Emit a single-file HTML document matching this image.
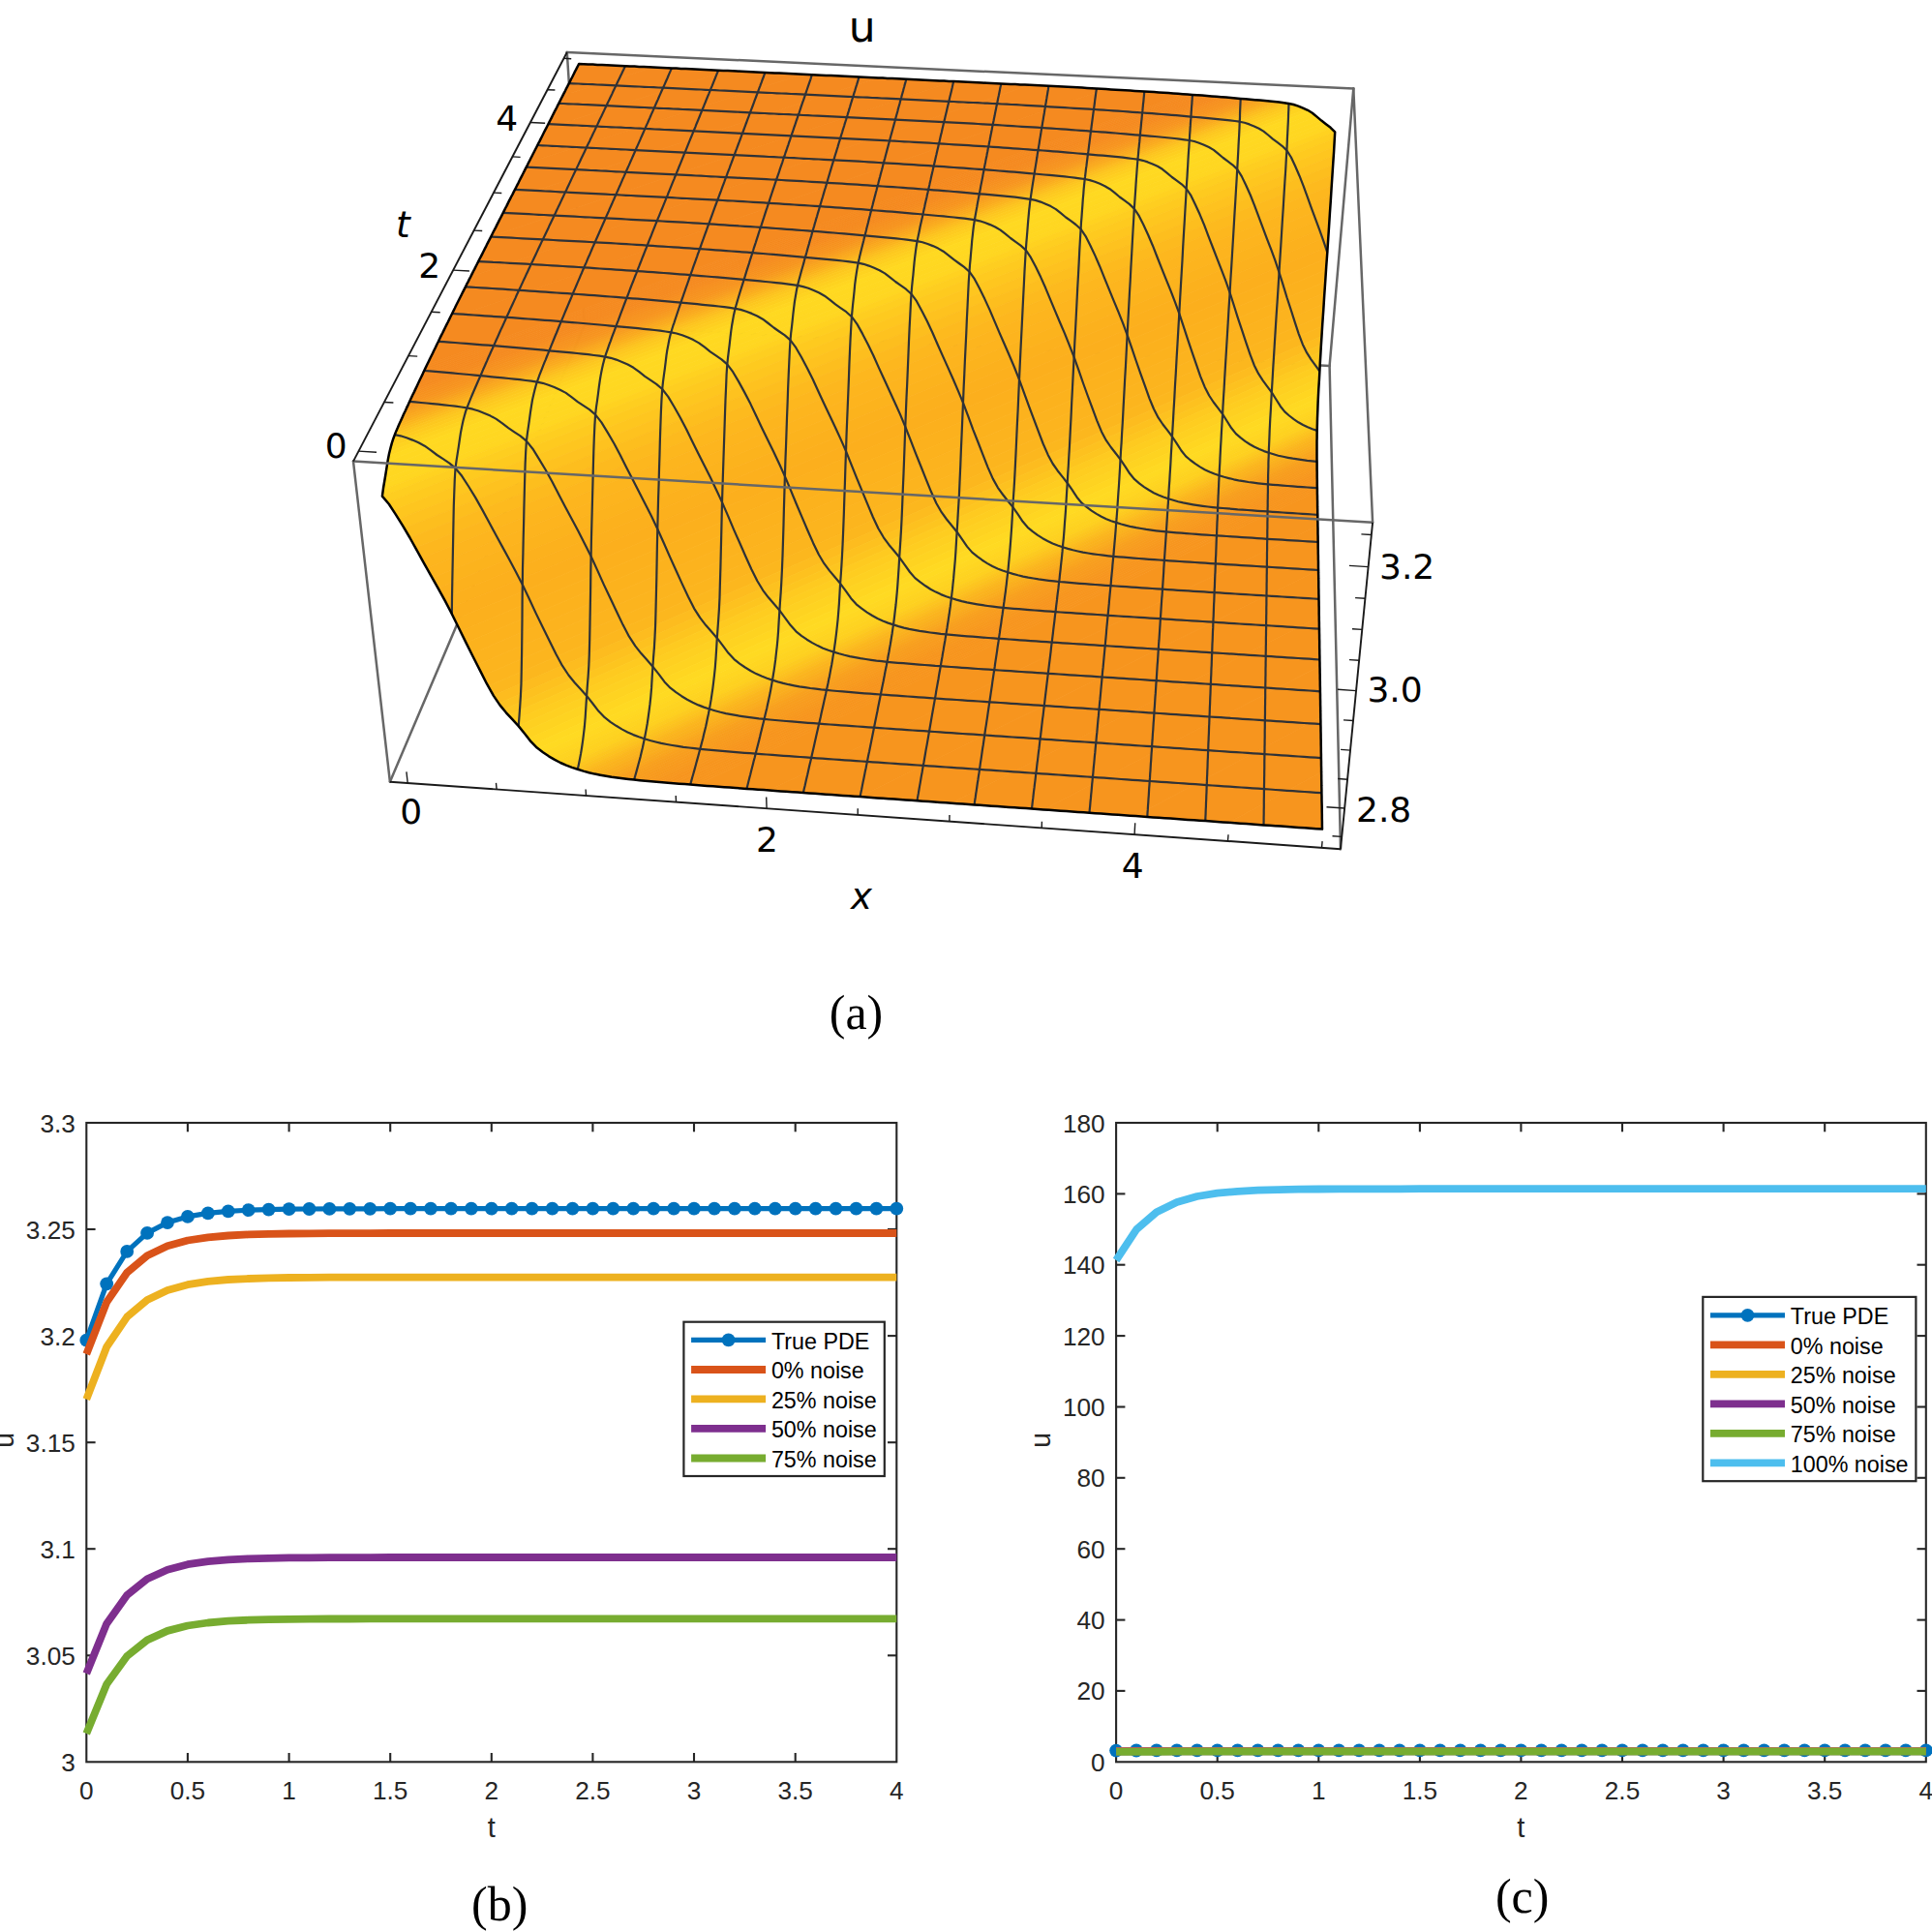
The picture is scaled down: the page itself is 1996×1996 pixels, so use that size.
<!DOCTYPE html>
<html><head><meta charset="utf-8"><title>figure</title>
<style>html,body{margin:0;padding:0;background:#fff}svg{display:block}</style></head>
<body><svg width="1996" height="1996" viewBox="0 0 1996 1996">
<rect width="1996" height="1996" fill="#fff"/>
<g stroke="#676767" stroke-width="2.5" fill="none" stroke-linecap="round"><line x1="402.9" y1="807.7" x2="604" y2="335.6"/><line x1="585.8" y1="54" x2="604" y2="335.6"/><line x1="604" y1="335.6" x2="1373.6" y2="378"/><line x1="1398.3" y1="91.4" x2="1373.6" y2="378"/><line x1="1373.6" y1="378" x2="1385" y2="877.2"/><line x1="585.8" y1="54" x2="1398.3" y2="91.4"/><line x1="1398.3" y1="91.4" x2="1418.1" y2="539.8"/></g><g stroke-width="0.8" stroke-linejoin="round"><polygon points="674.8,69.5 598.1,66 581.6,98.4" fill="#f58a20" stroke="#f58a20"/><polygon points="751.8,73.1 674.8,69.5 581.6,98.4 564.3,132.4" fill="#f58a20" stroke="#f58a20"/><polygon points="829.2,76.7 751.8,73.1 564.3,132.4 546.1,168" fill="#f58a20" stroke="#f58a20"/><polygon points="907,80.4 829.2,76.7 546.1,168 527.1,205.4" fill="#f58a20" stroke="#f58a20"/><polygon points="985.2,84.1 907,80.4 527.1,205.4 507.2,244.6" fill="#f58a20" stroke="#f58a20"/><polygon points="1063.8,87.8 985.2,84.1 507.2,244.6 486.3,285.8" fill="#f58a20" stroke="#f58a20"/><polygon points="1142.7,92.1 1063.8,87.8 486.3,285.8 464.3,329.6" fill="#f58a20" stroke="#f58a20"/><polygon points="1222,97.2 1142.7,92.1 464.3,329.6 441.2,376.8" fill="#f58a20" stroke="#f58a20"/><polygon points="1226,97.4 1222,97.2 441.2,376.8 440,379.3" fill="#f58a20" stroke="#f58a20"/><polygon points="1230,97.7 1226,97.4 440,379.3 438.8,381.7" fill="#f58a20" stroke="#f58a20"/><polygon points="1233.9,98 1230,97.7 438.8,381.7 437.7,384.2" fill="#f58a20" stroke="#f58a20"/><polygon points="1237.9,98.3 1233.9,98 437.7,384.2 436.5,386.7" fill="#f58a20" stroke="#f58a20"/><polygon points="1241.9,98.6 1237.9,98.3 436.5,386.7 435.3,389.2" fill="#f58a20" stroke="#f58a20"/><polygon points="1245.9,98.9 1241.9,98.6 435.3,389.2 434.1,391.7" fill="#f58a20" stroke="#f58a20"/><polygon points="1249.8,99.2 1245.9,98.9 434.1,391.7 432.9,394.2" fill="#f58a20" stroke="#f58a20"/><polygon points="1253.8,99.5 1249.8,99.2 432.9,394.2 431.7,396.8" fill="#f58a20" stroke="#f58a20"/><polygon points="1257.8,99.9 1253.8,99.5 431.7,396.8 430.5,399.3" fill="#f58b20" stroke="#f58b20"/><polygon points="1261.8,100.2 1257.8,99.9 430.5,399.3 429.3,401.9" fill="#f58c20" stroke="#f58c20"/><polygon points="1265.7,100.5 1261.8,100.2 429.3,401.9 428.1,404.4" fill="#f68d20" stroke="#f68d20"/><polygon points="1269.7,100.8 1265.7,100.5 428.1,404.4 426.8,407" fill="#f68f20" stroke="#f68f20"/><polygon points="1273.7,101.2 1269.7,100.8 426.8,407 425.6,409.6" fill="#f6901f" stroke="#f6901f"/><polygon points="1277.7,101.5 1273.7,101.2 425.6,409.6 424.4,412.2" fill="#f6921f" stroke="#f6921f"/><polygon points="1281.7,101.9 1277.7,101.5 424.4,412.2 423.2,414.8" fill="#f6931f" stroke="#f6931f"/><polygon points="1285.6,102.2 1281.7,101.9 423.2,414.8 422,417.5" fill="#f7941f" stroke="#f7941f"/><polygon points="1289.6,102.6 1285.6,102.2 422,417.5 420.7,420.1" fill="#f7961f" stroke="#f7961f"/><polygon points="1293.6,102.9 1289.6,102.6 420.7,420.1 419.5,422.7" fill="#f7991f" stroke="#f7991f"/><polygon points="1297.6,103.2 1293.6,102.9 419.5,422.7 418.3,425.4" fill="#f89c1f" stroke="#f89c1f"/><polygon points="1301.6,103.6 1297.6,103.2 418.3,425.4 417,428" fill="#f8a01f" stroke="#f8a01f"/><polygon points="1305.6,104 1301.6,103.6 417,428 415.8,430.7" fill="#f9a41e" stroke="#f9a41e"/><polygon points="1309.5,104.3 1305.6,104 415.8,430.7 414.6,433.4" fill="#faa81e" stroke="#faa81e"/><polygon points="1313.5,104.7 1309.5,104.3 414.6,433.4 413.3,436.2" fill="#faab1e" stroke="#faab1e"/><polygon points="1317.5,105.2 1313.5,104.7 413.3,436.2 412.1,438.9" fill="#fbb01e" stroke="#fbb01e"/><polygon points="1321.5,105.6 1317.5,105.2 412.1,438.9 410.9,441.8" fill="#fbb51e" stroke="#fbb51e"/><polygon points="1325.5,106.1 1321.5,105.6 410.9,441.8 409.6,444.6" fill="#fcba1f" stroke="#fcba1f"/><polygon points="1329.4,106.7 1325.5,106.1 409.6,444.6 408.4,447.6" fill="#fcbf1f" stroke="#fcbf1f"/><polygon points="1333.4,107.3 1329.4,106.7 408.4,447.6 407.2,450.6" fill="#fdc41f" stroke="#fdc41f"/><polygon points="1337.3,108.3 1333.4,107.3 407.2,450.6 406,454" fill="#fdc81f" stroke="#fdc81f"/><polygon points="1341.3,109.6 1337.3,108.3 406,454 404.8,457.9" fill="#fecb20" stroke="#fecb20"/><polygon points="1345.2,111.1 1341.3,109.6 404.8,457.9 403.7,462" fill="#fecf20" stroke="#fecf20"/><polygon points="1349,112.9 1345.2,111.1 403.7,462 402.6,466.4" fill="#fed320" stroke="#fed320"/><polygon points="1352.9,114.8 1349,112.9 402.6,466.4 401.5,471" fill="#ffd621" stroke="#ffd621"/><polygon points="1356.7,117.4 1352.9,114.8 401.5,471 400.5,476.3" fill="#ffd921" stroke="#ffd921"/><polygon points="1360.5,120.6 1356.7,117.4 400.5,476.3 399.6,482.4" fill="#ffd821" stroke="#ffd821"/><polygon points="1364.2,123.9 1360.5,120.6 399.6,482.4 398.7,488.5" fill="#ffd821" stroke="#ffd821"/><polygon points="1368,126.9 1364.2,123.9 398.7,488.5 397.7,494.4" fill="#ffd721" stroke="#ffd721"/><polygon points="1371.8,129.6 1368,126.9 397.7,494.4 396.7,500" fill="#ffd721" stroke="#ffd721"/><polygon points="1375.6,132.6 1371.8,129.6 396.7,500 395.8,505.9" fill="#ffd621" stroke="#ffd621"/><polygon points="394.9,512.6 394.9,512.6 1379.2,136.3 1379.2,136.3 1375.6,132.6 395.8,505.9" fill="#ffd220" stroke="#ffd220"/><polygon points="394.9,512.6 400.4,518.9 1378.9,143.2 1379.2,136.3 1379.2,136.3 394.9,512.6" fill="#fece20" stroke="#fece20"/><polygon points="400.4,518.9 406.1,527.1 1378.3,151.7 1378.9,143.2" fill="#feca1f" stroke="#feca1f"/><polygon points="406.1,527.1 411.8,536.2 1377.8,161.1 1378.3,151.7" fill="#fec61f" stroke="#fec61f"/><polygon points="411.8,536.2 417.6,545.5 1377.2,170.6 1377.8,161.1" fill="#fec21f" stroke="#fec21f"/><polygon points="417.6,545.5 423.4,555.5 1376.5,180.7 1377.2,170.6" fill="#fdbe1e" stroke="#fdbe1e"/><polygon points="423.4,555.5 429.3,566.1 1375.8,191.4 1376.5,180.7" fill="#fdba1e" stroke="#fdba1e"/><polygon points="429.3,566.1 435.1,576.7 1375.1,202.1 1375.8,191.4" fill="#fdb71e" stroke="#fdb71e"/><polygon points="435.1,576.7 440.9,587 1374.4,212.6 1375.1,202.1" fill="#fdb51e" stroke="#fdb51e"/><polygon points="440.9,587 446.7,597.1 1373.7,223 1374.4,212.6" fill="#fdb41e" stroke="#fdb41e"/><polygon points="446.7,597.1 452.4,607.4 1373.1,233.4 1373.7,223" fill="#fcb31d" stroke="#fcb31d"/><polygon points="452.4,607.4 458.2,617.8 1372.4,244.1 1373.1,233.4" fill="#fcb11d" stroke="#fcb11d"/><polygon points="458.2,617.8 463.9,628.6 1371.6,255.1 1372.4,244.1" fill="#fcb01d" stroke="#fcb01d"/><polygon points="463.9,628.6 469.8,640 1370.9,266.7 1371.6,255.1" fill="#fcaf1d" stroke="#fcaf1d"/><polygon points="469.8,640 475.6,652 1370,278.7 1370.9,266.7" fill="#fcb01d" stroke="#fcb01d"/><polygon points="475.6,652 481.4,663.9 1369.2,290.9 1370,278.7" fill="#fcb11d" stroke="#fcb11d"/><polygon points="481.4,663.9 487.2,675.4 1368.4,302.5 1369.2,290.9" fill="#fcb21d" stroke="#fcb21d"/><polygon points="487.2,675.4 492.9,686.7 1367.7,314.1 1368.4,302.5" fill="#fcb31e" stroke="#fcb31e"/><polygon points="492.9,686.7 498.6,698 1366.9,325.7 1367.7,314.1" fill="#fcb41e" stroke="#fcb41e"/><polygon points="498.6,698 504.3,708.8 1366.1,336.9 1366.9,325.7" fill="#fcb51e" stroke="#fcb51e"/><polygon points="504.3,708.8 509.8,718.6 1365.5,347.2 1366.1,336.9" fill="#fcb71e" stroke="#fcb71e"/><polygon points="509.8,718.6 515.1,726.7 1364.9,356 1365.5,347.2" fill="#fdbc1f" stroke="#fdbc1f"/><polygon points="515.1,726.7 520.3,733.3 1364.5,363.5 1364.9,356" fill="#fdc11f" stroke="#fdc11f"/><polygon points="520.3,733.3 525.5,739.1 1364.1,370.3 1364.5,363.5" fill="#fdc51f" stroke="#fdc51f"/><polygon points="525.5,739.1 530.6,744.5 1363.7,376.8 1364.1,370.3" fill="#feca20" stroke="#feca20"/><polygon points="530.6,744.5 535.7,750.1 1363.4,383.5 1363.7,376.8" fill="#fecd20" stroke="#fecd20"/><polygon points="535.7,750.1 540.8,756.3 1363,390.7 1363.4,383.5" fill="#fed021" stroke="#fed021"/><polygon points="540.8,756.3 546,763 1362.5,398.3 1363,390.7" fill="#fed321" stroke="#fed321"/><polygon points="546,763 551.1,769 1362.1,405.4 1362.5,398.3" fill="#ffd621" stroke="#ffd621"/><polygon points="551.1,769 556.1,773.6 1361.8,411.2 1362.1,405.4" fill="#ffd922" stroke="#ffd922"/><polygon points="556.1,773.6 561,777.2 1361.6,416.1 1361.8,411.2" fill="#ffda22" stroke="#ffda22"/><polygon points="561,777.2 565.8,780.5 1361.4,420.8 1361.6,416.1" fill="#ffd822" stroke="#ffd822"/><polygon points="565.8,780.5 570.7,783.5 1361.2,425.2 1361.4,420.8" fill="#ffd621" stroke="#ffd621"/><polygon points="570.7,783.5 575.5,786.2 1361.1,429.3 1361.2,425.2" fill="#fed421" stroke="#fed421"/><polygon points="575.5,786.2 580.2,788.6 1361,433.2 1361.1,429.3" fill="#fed220" stroke="#fed220"/><polygon points="580.2,788.6 585,790.7 1360.9,436.8 1361,433.2" fill="#fed020" stroke="#fed020"/><polygon points="585,790.7 589.7,792.5 1360.8,440.2 1360.9,436.8" fill="#fdcb20" stroke="#fdcb20"/><polygon points="589.7,792.5 594.4,794.1 1360.7,443.3 1360.8,440.2" fill="#fdc61f" stroke="#fdc61f"/><polygon points="594.4,794.1 599.2,795.6 1360.7,446.4 1360.7,443.3" fill="#fcc21f" stroke="#fcc21f"/><polygon points="599.2,795.6 603.9,796.9 1360.6,449.4 1360.7,446.4" fill="#fcbd1f" stroke="#fcbd1f"/><polygon points="603.9,796.9 608.5,798.2 1360.6,452.3 1360.6,449.4" fill="#fbb81e" stroke="#fbb81e"/><polygon points="608.5,798.2 613.2,799.3 1360.5,455.1 1360.6,452.3" fill="#fbb41e" stroke="#fbb41e"/><polygon points="613.2,799.3 617.9,800.3 1360.5,457.7 1360.5,455.1" fill="#fab21e" stroke="#fab21e"/><polygon points="617.9,800.3 622.6,801.1 1360.5,460.3 1360.5,457.7" fill="#faae1e" stroke="#faae1e"/><polygon points="622.6,801.1 627.2,801.9 1360.5,462.7 1360.5,460.3" fill="#faac1e" stroke="#faac1e"/><polygon points="627.2,801.9 631.9,802.7 1360.5,465.2 1360.5,462.7" fill="#f9a81e" stroke="#f9a81e"/><polygon points="631.9,802.7 636.5,803.3 1360.5,467.6 1360.5,465.2" fill="#f9a61e" stroke="#f9a61e"/><polygon points="636.5,803.3 641.2,804 1360.5,470 1360.5,467.6" fill="#f9a21e" stroke="#f9a21e"/><polygon points="641.2,804 645.8,804.6 1360.5,472.3 1360.5,470" fill="#f8a01e" stroke="#f8a01e"/><polygon points="645.8,804.6 650.5,805.1 1360.5,474.6 1360.5,472.3" fill="#f89e1e" stroke="#f89e1e"/><polygon points="650.5,805.1 655.1,805.6 1360.6,476.8 1360.5,474.6" fill="#f89d1e" stroke="#f89d1e"/><polygon points="655.1,805.6 659.8,806.1 1360.6,479 1360.6,476.8" fill="#f89c1e" stroke="#f89c1e"/><polygon points="659.8,806.1 664.4,806.5 1360.6,481.2 1360.6,479" fill="#f89b1e" stroke="#f89b1e"/><polygon points="664.4,806.5 669,806.9 1360.6,483.4 1360.6,481.2" fill="#f89a1e" stroke="#f89a1e"/><polygon points="669,806.9 673.7,807.3 1360.6,485.6 1360.6,483.4" fill="#f7991e" stroke="#f7991e"/><polygon points="673.7,807.3 678.3,807.7 1360.7,487.8 1360.6,485.6" fill="#f7981e" stroke="#f7981e"/><polygon points="678.3,807.7 683,808.1 1360.7,490 1360.7,487.8" fill="#f7971e" stroke="#f7971e"/><polygon points="683,808.1 687.6,808.5 1360.7,492.2 1360.7,490" fill="#f7961e" stroke="#f7961e"/><polygon points="687.6,808.5 692.3,808.9 1360.7,494.4 1360.7,492.2" fill="#f7951e" stroke="#f7951e"/><polygon points="692.3,808.9 696.9,809.3 1360.8,496.6 1360.7,494.4" fill="#f7951e" stroke="#f7951e"/><polygon points="696.9,809.3 701.6,809.7 1360.8,498.7 1360.8,496.6" fill="#f7951e" stroke="#f7951e"/><polygon points="701.6,809.7 706.2,810 1360.8,500.9 1360.8,498.7" fill="#f7951e" stroke="#f7951e"/><polygon points="706.2,810 710.9,810.4 1360.9,503.1 1360.8,500.9" fill="#f7951e" stroke="#f7951e"/><polygon points="710.9,810.4 715.5,810.7 1360.9,505.3 1360.9,503.1" fill="#f7951e" stroke="#f7951e"/><polygon points="715.5,810.7 720.2,811.1 1360.9,507.5 1360.9,505.3" fill="#f7951e" stroke="#f7951e"/><polygon points="720.2,811.1 794.8,816.6 1361.4,543 1360.9,507.5" fill="#f7951e" stroke="#f7951e"/><polygon points="794.8,816.6 888.6,823.1 1362.1,589 1361.4,543" fill="#f7951e" stroke="#f7951e"/><polygon points="888.6,823.1 982.9,829.7 1362.8,637.2 1362.1,589" fill="#f7951e" stroke="#f7951e"/><polygon points="982.9,829.7 1077.8,836.4 1363.5,687.9 1362.8,637.2" fill="#f7951e" stroke="#f7951e"/><polygon points="1077.8,836.4 1173.3,843.1 1364.3,741.3 1363.5,687.9" fill="#f7951e" stroke="#f7951e"/><polygon points="1173.3,843.1 1269.3,849.8 1365.1,797.4 1364.3,741.3" fill="#f7951e" stroke="#f7951e"/><polygon points="1269.3,849.8 1366,856.6 1365.1,797.4" fill="#f7951e" stroke="#f7951e"/></g><g fill="none" stroke="#2f3237" stroke-width="2.2" stroke-linejoin="round"><polyline points="407.8,449.1 413.8,450.3 420,452.2 426.2,454.6 432.4,457.3 438.7,460.7 445,465.2 451.4,470 457.8,474.2 464.1,478.4 470.5,483.7 477.2,491.8 484.1,502.5 491.1,513.9 498,526.1 505.1,539.3 512.1,552.2 519,564.9 525.9,577.5 532.8,590.4 539.8,604.1 546.8,618.7 553.7,633.6 560.6,647.7 567.5,661.7 574.3,675.4 580.9,687.7 587.4,697.5 593.7,705.2 599.9,712.1 606.1,718.9 612.3,726.8 618.5,734.8 624.7,741.2 630.6,745.8 636.6,749.8 642.5,753.4 648.4,756.5 654.2,759.1 660,761.3 665.8,763.2 671.6,765 677.4,766.5 683.2,767.9 688.9,769 694.6,770 700.4,770.9 706.1,771.8 711.9,772.5 717.6,773.2 723.3,773.8 729,774.4 734.8,774.9 740.5,775.4 746.2,775.9 752,776.4 757.7,776.9 763.4,777.3 769.2,777.8 774.9,778.2 780.7,778.6 786.4,779.1 792.1,779.5 797.9,779.9 803.6,780.3 809.4,780.8 815.1,781.2 820.9,781.6 826.7,782 832.4,782.4 838.2,782.9 843.9,783.3 849.7,783.7 855.5,784.1 861.2,784.5 867,784.9 872.8,785.3 878.6,785.7 884.3,786.1 890.1,786.5 895.9,786.9 901.7,787.3 907.5,787.7 913.3,788.1 919,788.5 924.8,788.9 930.6,789.3 936.4,789.7 942.2,790.1 948,790.5 953.8,790.9 959.6,791.3 965.4,791.7 971.3,792.1 977.1,792.5 982.9,792.9 988.7,793.3 994.5,793.7 1000.3,794.1 1006.2,794.5 1012,794.9 1017.8,795.3 1023.6,795.7 1029.5,796.1 1035.3,796.5 1041.1,796.9 1047,797.3 1052.8,797.7 1058.7,798.1 1064.5,798.5 1070.3,798.9 1076.2,799.3 1082,799.7 1087.9,800.1 1093.8,800.5 1099.6,800.9 1105.5,801.3 1111.3,801.7 1117.2,802.1 1123.1,802.5 1128.9,802.9 1134.8,803.3 1140.7,803.7 1146.5,804.1 1152.4,804.5 1158.3,805 1164.2,805.4 1170.1,805.8 1175.9,806.2 1181.8,806.6 1187.7,807 1193.6,807.4 1199.5,807.8 1205.4,808.2 1211.3,808.6 1217.2,809 1223.1,809.4 1229,809.8 1234.9,810.2 1240.8,810.6 1246.7,811.1 1252.7,811.5 1258.6,811.9 1264.5,812.3 1270.4,812.7 1276.3,813.1 1282.3,813.5 1288.2,813.9 1294.1,814.3 1300,814.7 1306,815.1 1311.9,815.5 1317.9,816 1323.8,816.4 1329.7,816.8 1335.7,817.2 1341.6,817.6 1347.6,818 1353.5,818.4 1359.5,818.8 1365.4,819.2"/><polyline points="466.8,634.2 467,617.4 467.3,601.3 467.6,585.6 467.9,569.9 468.2,553.9 468.5,537.8 468.8,522.6 469.3,508.3 469.8,494.7 470.5,483.7 471.6,475.6 472.7,468.6 473.8,461.6 474.9,454 476,446.7 477.2,440.6 478.4,435.1 479.7,430 481,425.4 482.4,421.4 483.8,417.8 485.2,414.3 486.6,410.9 488,407.5 489.4,404.2 490.8,401 492.2,397.7 493.6,394.5 495,391.4 496.4,388.2 497.8,385 499.1,381.8 500.5,378.7 501.9,375.5 503.3,372.4 504.6,369.3 506,366.3 507.3,363.2 508.7,360.2 510,357.2 511.4,354.2 512.7,351.2 514.1,348.2 515.4,345.3 516.7,342.3 518,339.4 519.4,336.5 520.7,333.6 522,330.7 523.3,327.8 524.6,325 525.9,322.2 527.2,319.3 528.5,316.5 529.8,313.7 531.1,310.9 532.4,308.1 533.6,305.3 534.9,302.6 536.2,299.8 537.5,297.1 538.7,294.4 540,291.6 541.2,288.9 542.5,286.3 543.7,283.6 545,280.9 546.2,278.3 547.5,275.6 548.7,273 549.9,270.4 551.2,267.8 552.4,265.3 553.6,262.7 554.8,260.1 556,257.6 557.2,255 558.4,252.5 559.6,249.9 560.8,247.4 562,244.9 563.2,242.4 564.4,239.9 565.6,237.4 566.8,234.9 567.9,232.4 569.1,230 570.3,227.5 571.5,225 572.6,222.6 573.8,220.2 574.9,217.7 576.1,215.3 577.2,212.9 578.4,210.5 579.5,208.1 580.6,205.7 581.8,203.3 582.9,200.9 584,198.5 585.2,196.2 586.3,193.8 587.4,191.5 588.5,189.1 589.6,186.8 590.7,184.4 591.8,182.1 592.9,179.8 594,177.5 595.1,175.2 596.2,172.9 597.3,170.6 598.4,168.3 599.5,166 600.5,163.8 601.6,161.5 602.7,159.3 603.8,157 604.8,154.8 605.9,152.5 606.9,150.3 608,148.1 609.1,145.9 610.1,143.6 611.2,141.4 612.2,139.2 613.2,137.1 614.3,134.9 615.3,132.7 616.3,130.5 617.4,128.4 618.4,126.2 619.4,124 620.4,121.9 621.5,119.8 622.5,117.6 623.5,115.5 624.5,113.4 625.5,111.3 626.5,109.2 627.5,107 628.5,104.9 629.5,102.9 630.5,100.8 631.5,98.7 632.5,96.6 633.4,94.5 634.4,92.5 635.4,90.4 636.4,88.4 637.4,86.3 638.3,84.3 639.3,82.3 640.3,80.2 641.2,78.2 642.2,76.2 643.1,74.2 644.1,72.2 645,70.2 646,68.2"/><polyline points="423.2,414.8 429.1,415.4 435,416 440.9,416.5 446.8,417.1 452.7,417.7 458.7,418.3 464.6,419 470.5,419.7 476.5,420.5 482.4,421.4 488.4,422.7 494.4,424.5 500.5,426.9 506.6,429.6 512.7,432.9 519,437.4 525.2,442.1 531.4,446.3 537.6,450.4 543.9,455.6 550.4,463.7 557,474.3 563.7,485.5 570.5,497.7 577.2,510.7 583.9,523.5 590.6,536 597.3,548.5 603.9,561.4 610.6,574.8 617.3,589.4 623.9,604.1 630.5,618 637.1,632 643.6,645.6 650,657.7 656.3,667.4 662.4,675.1 668.4,681.8 674.4,688.7 680.5,696.4 686.5,704.4 692.5,710.7 698.3,715.2 704.2,719.2 710,722.8 715.7,725.8 721.5,728.4 727.2,730.6 732.9,732.5 738.6,734.2 744.3,735.8 749.9,737.1 755.6,738.2 761.3,739.2 766.9,740.1 772.6,740.9 778.3,741.7 783.9,742.4 789.6,742.9 795.2,743.5 800.9,744 806.5,744.5 812.2,745 817.9,745.4 823.5,745.9 829.2,746.4 834.9,746.8 840.5,747.2 846.2,747.6 851.9,748.1 857.5,748.5 863.2,748.9 868.9,749.3 874.6,749.7 880.3,750.1 885.9,750.5 891.6,750.9 897.3,751.3 903,751.7 908.7,752.1 914.4,752.5 920.1,752.9 925.8,753.3 931.5,753.7 937.2,754.1 942.9,754.5 948.6,754.9 954.3,755.2 960,755.6 965.7,756 971.4,756.4 977.1,756.8 982.9,757.2 988.6,757.6 994.3,758 1000,758.3 1005.8,758.7 1011.5,759.1 1017.2,759.5 1022.9,759.9 1028.7,760.3 1034.4,760.7 1040.2,761.1 1045.9,761.5 1051.6,761.8 1057.4,762.2 1063.1,762.6 1068.9,763 1074.6,763.4 1080.4,763.8 1086.1,764.2 1091.9,764.6 1097.7,765 1103.4,765.4 1109.2,765.8 1115,766.1 1120.7,766.5 1126.5,766.9 1132.3,767.3 1138,767.7 1143.8,768.1 1149.6,768.5 1155.4,768.9 1161.2,769.3 1166.9,769.7 1172.7,770.1 1178.5,770.5 1184.3,770.8 1190.1,771.2 1195.9,771.6 1201.7,772 1207.5,772.4 1213.3,772.8 1219.1,773.2 1224.9,773.6 1230.7,774 1236.5,774.4 1242.4,774.8 1248.2,775.2 1254,775.6 1259.8,776 1265.6,776.4 1271.4,776.8 1277.3,777.2 1283.1,777.5 1288.9,777.9 1294.8,778.3 1300.6,778.7 1306.4,779.1 1312.3,779.5 1318.1,779.9 1324,780.3 1329.8,780.7 1335.6,781.1 1341.5,781.5 1347.3,781.9 1353.2,782.3 1359.1,782.7 1364.9,783.1"/><polyline points="535.7,750.1 536.5,740 537.2,730 537.9,719.1 538.5,706.1 538.8,690.7 539.1,673.9 539.3,656.7 539.5,639.6 539.6,621.7 539.8,604.1 540,587.5 540.4,571.6 540.7,556.1 541.1,540.6 541.4,524.9 541.8,509 542.2,494 542.6,479.9 543.2,466.5 543.9,455.6 544.9,447.7 545.9,440.8 546.9,433.9 547.9,426.5 549,419.3 550,413.3 551.2,408 552.4,403 553.6,398.5 554.8,394.6 556.1,391.1 557.3,387.7 558.6,384.4 559.9,381.1 561.1,377.9 562.4,374.7 563.7,371.6 564.9,368.5 566.2,365.4 567.4,362.3 568.7,359.2 569.9,356.1 571.2,353 572.4,350 573.6,347 574.9,344 576.1,341 577.3,338 578.5,335.1 579.8,332.1 581,329.2 582.2,326.3 583.4,323.4 584.6,320.5 585.8,317.7 587,314.8 588.2,312 589.4,309.2 590.6,306.4 591.7,303.6 592.9,300.8 594.1,298.1 595.3,295.3 596.4,292.6 597.6,289.9 598.8,287.1 599.9,284.4 601.1,281.7 602.2,279 603.4,276.4 604.5,273.7 605.7,271.1 606.8,268.4 607.9,265.8 609.1,263.2 610.2,260.6 611.3,258 612.4,255.4 613.6,252.8 614.7,250.3 615.8,247.8 616.9,245.3 618,242.7 619.1,240.2 620.2,237.7 621.3,235.3 622.4,232.8 623.5,230.3 624.6,227.8 625.6,225.4 626.7,222.9 627.8,220.5 628.9,218.1 629.9,215.6 631,213.2 632.1,210.8 633.1,208.4 634.2,206 635.2,203.6 636.3,201.2 637.3,198.9 638.4,196.5 639.4,194.1 640.5,191.8 641.5,189.4 642.5,187.1 643.5,184.7 644.6,182.4 645.6,180.1 646.6,177.8 647.6,175.5 648.6,173.2 649.7,170.9 650.7,168.6 651.7,166.3 652.7,164.1 653.7,161.8 654.7,159.5 655.7,157.3 656.6,155.1 657.6,152.8 658.6,150.6 659.6,148.4 660.6,146.1 661.6,143.9 662.5,141.7 663.5,139.5 664.5,137.3 665.4,135.1 666.4,133 667.3,130.8 668.3,128.6 669.3,126.5 670.2,124.3 671.2,122.2 672.1,120 673,117.9 674,115.8 674.9,113.6 675.9,111.5 676.8,109.4 677.7,107.3 678.6,105.2 679.6,103.1 680.5,101 681.4,98.9 682.3,96.9 683.2,94.8 684.1,92.7 685.1,90.7 686,88.6 686.9,86.6 687.8,84.5 688.7,82.5 689.6,80.5 690.4,78.5 691.3,76.4 692.2,74.4 693.1,72.4 694,70.4"/><polyline points="438.2,383 444,383.4 449.9,383.9 455.7,384.4 461.5,384.9 467.3,385.4 473.1,386 478.9,386.5 484.7,387 490.6,387.6 496.4,388.2 502.2,388.7 508,389.3 513.9,389.8 519.7,390.4 525.5,391 531.4,391.6 537.2,392.2 543.1,393 548.9,393.7 554.8,394.6 560.7,395.8 566.6,397.7 572.6,400 578.6,402.7 584.6,405.9 590.7,410.4 596.8,415.1 602.9,419.2 609,423.2 615.1,428.4 621.4,436.4 627.8,446.9 634.3,458 640.7,470 647.2,482.9 653.7,495.6 660.1,508 666.5,520.4 672.9,533.1 679.3,546.5 685.7,560.8 692.1,575.4 698.4,589.3 704.7,603.1 711,616.5 717.1,628.6 723.2,638.2 729.1,645.8 735,652.5 740.8,659.2 746.7,666.9 752.6,674.8 758.4,681.1 764.1,685.6 769.8,689.5 775.5,693 781.2,696.1 786.8,698.6 792.4,700.8 798,702.6 803.6,704.4 809.2,705.9 814.8,707.2 820.4,708.3 826,709.3 831.6,710.1 837.2,711 842.8,711.7 848.4,712.4 853.9,712.9 859.5,713.5 865.1,714 870.7,714.4 876.3,714.9 881.9,715.4 887.5,715.8 893.1,716.3 898.7,716.7 904.3,717.1 909.9,717.5 915.5,717.9 921.1,718.3 926.7,718.7 932.3,719.1 937.9,719.5 943.5,719.9 949.1,720.3 954.7,720.7 960.4,721.1 966,721.5 971.6,721.9 977.2,722.3 982.8,722.7 988.5,723 994.1,723.4 999.7,723.8 1005.4,724.2 1011,724.5 1016.6,724.9 1022.3,725.3 1027.9,725.7 1033.6,726 1039.2,726.4 1044.9,726.8 1050.5,727.2 1056.2,727.6 1061.8,727.9 1067.5,728.3 1073.1,728.7 1078.8,729.1 1084.5,729.4 1090.1,729.8 1095.8,730.2 1101.5,730.6 1107.1,731 1112.8,731.3 1118.5,731.7 1124.1,732.1 1129.8,732.5 1135.5,732.8 1141.2,733.2 1146.9,733.6 1152.6,734 1158.2,734.4 1163.9,734.7 1169.6,735.1 1175.3,735.5 1181,735.9 1186.7,736.3 1192.4,736.6 1198.1,737 1203.8,737.4 1209.5,737.8 1215.2,738.2 1221,738.6 1226.7,738.9 1232.4,739.3 1238.1,739.7 1243.8,740.1 1249.5,740.5 1255.3,740.8 1261,741.2 1266.7,741.6 1272.4,742 1278.2,742.4 1283.9,742.8 1289.6,743.1 1295.4,743.5 1301.1,743.9 1306.9,744.3 1312.6,744.7 1318.4,745.1 1324.1,745.4 1329.9,745.8 1335.6,746.2 1341.4,746.6 1347.1,747 1352.9,747.4 1358.6,747.7 1364.4,748.1"/><polyline points="596.8,794.8 597.9,789.7 599,784.3 600.1,778.4 601.1,772.2 602.1,765.4 603,758.2 603.9,750.5 604.7,741 605.4,729.8 606.1,718.9 606.8,709 607.6,699.1 608.3,688.4 608.8,675.6 609.2,660.4 609.5,643.8 609.8,626.8 610.1,609.9 610.3,592.3 610.6,574.8 610.9,558.5 611.3,542.8 611.7,527.5 612.1,512.3 612.5,496.7 612.9,481 613.3,466.2 613.8,452.3 614.4,439.1 615.1,428.4 616,420.6 617,413.8 617.9,407.1 618.8,399.8 619.8,392.8 620.8,386.9 621.8,381.7 622.9,376.8 624,372.4 625.1,368.6 626.2,365.2 627.4,361.8 628.5,358.6 629.6,355.4 630.8,352.3 631.9,349.2 633,346.2 634.2,343.1 635.3,340.1 636.4,337.1 637.5,334.1 638.7,331.1 639.8,328.1 640.9,325.2 642,322.2 643.1,319.3 644.2,316.4 645.3,313.5 646.4,310.7 647.5,307.8 648.6,305 649.7,302.1 650.7,299.3 651.8,296.5 652.9,293.7 654,291 655.1,288.2 656.1,285.5 657.2,282.8 658.2,280.1 659.3,277.4 660.4,274.7 661.4,272 662.5,269.3 663.5,266.7 664.6,264 665.6,261.4 666.6,258.8 667.7,256.2 668.7,253.6 669.7,251 670.7,248.4 671.8,245.8 672.8,243.3 673.8,240.7 674.8,238.2 675.8,235.7 676.8,233.2 677.8,230.7 678.8,228.2 679.8,225.7 680.8,223.3 681.8,220.8 682.8,218.4 683.8,216 684.8,213.6 685.8,211.1 686.8,208.7 687.7,206.3 688.7,203.9 689.7,201.6 690.6,199.2 691.6,196.8 692.6,194.4 693.5,192.1 694.5,189.7 695.4,187.4 696.4,185.1 697.3,182.7 698.3,180.4 699.2,178.1 700.2,175.8 701.1,173.5 702,171.2 703,168.9 703.9,166.6 704.8,164.4 705.7,162.1 706.6,159.8 707.6,157.6 708.5,155.3 709.4,153.1 710.3,150.9 711.2,148.7 712.1,146.4 713,144.2 713.9,142 714.8,139.8 715.7,137.6 716.6,135.4 717.5,133.3 718.4,131.1 719.2,128.9 720.1,126.8 721,124.6 721.9,122.4 722.8,120.3 723.6,118.2 724.5,116 725.4,113.9 726.2,111.8 727.1,109.7 727.9,107.6 728.8,105.5 729.6,103.4 730.5,101.3 731.3,99.2 732.2,97.1 733,95.1 733.9,93 734.7,90.9 735.6,88.9 736.4,86.8 737.2,84.8 738,82.8 738.9,80.7 739.7,78.7 740.5,76.7 741.3,74.7 742.2,72.7"/><polyline points="452.9,352.8 458.6,353.2 464.3,353.6 470,354 475.7,354.5 481.4,354.9 487.1,355.3 492.9,355.8 498.6,356.3 504.3,356.7 510,357.2 515.8,357.7 521.5,358.1 527.2,358.6 533,359.1 538.7,359.6 544.4,360.1 550.2,360.6 555.9,361.2 561.7,361.7 567.4,362.3 573.2,362.8 578.9,363.3 584.7,363.9 590.4,364.4 596.2,365 602,365.6 607.7,366.2 613.5,367 619.3,367.7 625.1,368.6 630.9,369.8 636.7,371.6 642.6,373.9 648.5,376.5 654.4,379.8 660.4,384.2 666.3,388.8 672.3,392.8 678.2,396.9 684.2,402 690.3,409.9 696.5,420.3 702.7,431.3 709,443.2 715.2,455.9 721.4,468.5 727.6,480.8 733.8,493.1 739.9,505.7 746,518.9 752.2,533.1 758.3,547.6 764.4,561.3 770.4,575 776.4,588.3 782.4,600.3 788.2,609.8 793.9,617.3 799.7,624 805.4,630.6 811.1,638.3 816.8,646.1 822.4,652.3 828,656.8 833.6,660.7 839.2,664.1 844.8,667.1 850.3,669.7 855.8,671.8 861.4,673.6 866.9,675.3 872.4,676.8 877.9,678.1 883.4,679.2 888.9,680.2 894.5,681 900,681.8 905.5,682.6 911,683.2 916.5,683.8 922,684.3 927.6,684.8 933.1,685.2 938.6,685.7 944.1,686.2 949.6,686.6 955.2,687 960.7,687.4 966.2,687.9 971.8,688.2 977.3,688.6 982.8,689 988.4,689.4 993.9,689.8 999.4,690.2 1005,690.6 1010.5,691 1016.1,691.4 1021.6,691.7 1027.2,692.1 1032.7,692.5 1038.3,692.9 1043.9,693.2 1049.4,693.6 1055,694 1060.5,694.3 1066.1,694.7 1071.7,695.1 1077.2,695.4 1082.8,695.8 1088.4,696.2 1094,696.5 1099.5,696.9 1105.1,697.3 1110.7,697.6 1116.3,698 1121.9,698.4 1127.5,698.7 1133,699.1 1138.6,699.5 1144.2,699.8 1149.8,700.2 1155.4,700.6 1161,700.9 1166.6,701.3 1172.2,701.7 1177.8,702 1183.4,702.4 1189,702.8 1194.7,703.2 1200.3,703.5 1205.9,703.9 1211.5,704.3 1217.1,704.6 1222.7,705 1228.4,705.4 1234,705.7 1239.6,706.1 1245.2,706.5 1250.9,706.8 1256.5,707.2 1262.1,707.6 1267.8,708 1273.4,708.3 1279.1,708.7 1284.7,709.1 1290.3,709.4 1296,709.8 1301.6,710.2 1307.3,710.5 1312.9,710.9 1318.6,711.3 1324.3,711.7 1329.9,712 1335.6,712.4 1341.2,712.8 1346.9,713.1 1352.6,713.5 1358.2,713.9 1363.9,714.3"/><polyline points="655.1,805.6 656.2,801.8 657.3,797.9 658.4,793.9 659.5,789.8 660.6,785.8 661.7,781.6 662.7,777.3 663.8,772.8 664.8,768.1 665.8,763.2 666.8,758.2 667.8,752.9 668.8,747.2 669.7,741 670.6,734.4 671.5,727.4 672.3,719.8 673.1,710.4 673.7,699.4 674.4,688.7 675.1,678.9 675.9,669.1 676.5,658.5 677.1,646 677.5,631 677.9,614.5 678.3,597.8 678.6,581.1 678.9,563.7 679.3,546.5 679.7,530.3 680.1,514.9 680.6,499.8 681,484.7 681.5,469.3 681.9,453.8 682.4,439.3 682.9,425.5 683.5,412.5 684.2,402 685,394.3 685.9,387.7 686.8,381.1 687.7,373.9 688.5,367 689.4,361.2 690.4,356.1 691.3,351.3 692.3,347 693.3,343.3 694.3,340 695.3,336.7 696.4,333.6 697.4,330.5 698.4,327.5 699.4,324.5 700.4,321.5 701.4,318.5 702.4,315.6 703.4,312.7 704.4,309.7 705.4,306.8 706.4,303.9 707.4,301.1 708.4,298.2 709.4,295.4 710.4,292.5 711.4,289.7 712.3,286.9 713.3,284.2 714.3,281.4 715.3,278.7 716.2,275.9 717.2,273.2 718.2,270.5 719.1,267.8 720.1,265.1 721,262.4 722,259.8 722.9,257.2 723.9,254.5 724.8,251.9 725.7,249.3 726.7,246.7 727.6,244.1 728.5,241.6 729.5,239 730.4,236.4 731.3,233.9 732.2,231.4 733.2,228.8 734.1,226.3 735,223.8 735.9,221.3 736.8,218.9 737.7,216.4 738.6,213.9 739.5,211.5 740.4,209.1 741.3,206.7 742.2,204.3 743.1,201.9 744,199.5 744.9,197.1 745.7,194.8 746.6,192.4 747.5,190.1 748.4,187.7 749.2,185.4 750.1,183.1 751,180.7 751.8,178.4 752.7,176.1 753.6,173.8 754.4,171.5 755.3,169.2 756.1,167 757,164.7 757.8,162.4 758.7,160.2 759.5,157.9 760.3,155.7 761.2,153.4 762,151.2 762.8,149 763.7,146.7 764.5,144.5 765.3,142.3 766.1,140.1 767,137.9 767.8,135.7 768.6,133.5 769.4,131.4 770.2,129.2 771,127 771.8,124.9 772.6,122.7 773.4,120.6 774.2,118.4 775,116.3 775.8,114.2 776.6,112.1 777.4,110 778.2,107.8 779,105.7 779.7,103.7 780.5,101.6 781.3,99.5 782.1,97.4 782.9,95.3 783.6,93.3 784.4,91.2 785.2,89.1 785.9,87.1 786.7,85.1 787.4,83 788.2,81 789,79 789.7,76.9 790.5,74.9"/><polyline points="467.1,324 472.7,324.3 478.3,324.7 483.9,325.1 489.5,325.5 495.2,325.9 500.8,326.3 506.4,326.7 512,327.1 517.7,327.4 523.3,327.8 528.9,328.2 534.6,328.6 540.2,329.1 545.9,329.5 551.5,329.9 557.1,330.3 562.8,330.8 568.4,331.2 574.1,331.7 579.8,332.1 585.4,332.6 591.1,333.1 596.7,333.5 602.4,334 608.1,334.5 613.7,335 619.4,335.5 625.1,336 630.7,336.6 636.4,337.1 642.1,337.6 647.8,338.2 653.5,338.7 659.1,339.2 664.8,339.8 670.5,340.4 676.2,341 681.9,341.7 687.6,342.5 693.3,343.3 699,344.5 704.8,346.3 710.6,348.6 716.3,351.1 722.1,354.4 728,358.7 733.8,363.3 739.7,367.3 745.5,371.3 751.3,376.4 757.2,384.2 763.2,394.4 769.2,405.4 775.3,417.1 781.3,429.8 787.2,442.2 793.2,454.4 799.1,466.5 805,479 810.9,492.1 816.8,506.2 822.7,520.5 828.5,534.1 834.3,547.7 840.1,560.9 845.8,572.8 851.4,582.2 857,589.6 862.6,596.2 868.1,602.8 873.7,610.4 879.2,618.2 884.7,624.3 890.2,628.7 895.7,632.6 901.2,636 906.6,639 912.1,641.5 917.5,643.6 923,645.4 928.4,647.1 933.8,648.6 939.3,649.9 944.7,650.9 950.1,651.9 955.6,652.7 961,653.5 966.5,654.2 971.9,654.9 977.4,655.4 982.8,655.9 988.3,656.4 993.7,656.8 999.2,657.3 1004.6,657.7 1010.1,658.2 1015.6,658.6 1021,659 1026.5,659.4 1031.9,659.8 1037.4,660.2 1042.9,660.5 1048.4,660.9 1053.8,661.3 1059.3,661.7 1064.8,662.1 1070.3,662.4 1075.7,662.8 1081.2,663.2 1086.7,663.6 1092.2,663.9 1097.7,664.3 1103.2,664.6 1108.7,665 1114.2,665.4 1119.7,665.7 1125.2,666.1 1130.7,666.4 1136.2,666.8 1141.7,667.1 1147.2,667.5 1152.7,667.8 1158.2,668.2 1163.7,668.6 1169.2,668.9 1174.7,669.3 1180.3,669.6 1185.8,670 1191.3,670.3 1196.8,670.7 1202.3,671.1 1207.9,671.4 1213.4,671.8 1218.9,672.1 1224.5,672.5 1230,672.8 1235.5,673.2 1241.1,673.6 1246.6,673.9 1252.2,674.3 1257.7,674.6 1263.3,675 1268.8,675.4 1274.4,675.7 1279.9,676.1 1285.5,676.4 1291,676.8 1296.6,677.1 1302.1,677.5 1307.7,677.9 1313.3,678.2 1318.8,678.6 1324.4,678.9 1330,679.3 1335.5,679.7 1341.1,680 1346.7,680.4 1352.3,680.7 1357.9,681.1 1363.4,681.5"/><polyline points="713.2,810.6 714.2,806.9 715.2,803.2 716.3,799.5 717.3,795.9 718.3,792.2 719.3,788.5 720.3,784.9 721.3,781.2 722.3,777.5 723.3,773.8 724.3,770.1 725.3,766.3 726.3,762.4 727.2,758.5 728.2,754.5 729.2,750.5 730.1,746.2 731,741.8 732,737.3 732.9,732.5 733.8,727.6 734.7,722.4 735.5,716.8 736.4,710.8 737.2,704.3 738,697.3 738.8,689.9 739.5,680.7 740.2,669.8 740.8,659.2 741.5,649.6 742.2,640 742.9,629.6 743.5,617.2 743.9,602.3 744.4,586.1 744.8,569.6 745.2,553.1 745.6,535.9 746,518.9 746.5,503 747,487.7 747.5,472.8 748,457.9 748.5,442.8 749,427.5 749.5,413.1 750.1,399.5 750.6,386.7 751.3,376.4 752.1,368.8 752.9,362.3 753.7,355.8 754.5,348.7 755.3,341.9 756.1,336.3 757,331.3 757.8,326.6 758.7,322.4 759.6,318.8 760.5,315.5 761.4,312.4 762.3,309.3 763.2,306.3 764.1,303.3 765,300.4 765.9,297.5 766.8,294.6 767.7,291.8 768.6,288.9 769.5,286.1 770.4,283.2 771.2,280.4 772.1,277.6 773,274.8 773.9,272.1 774.7,269.3 775.6,266.6 776.5,263.9 777.3,261.2 778.2,258.5 779,255.8 779.9,253.1 780.8,250.5 781.6,247.9 782.5,245.2 783.3,242.6 784.1,240 785,237.4 785.8,234.9 786.7,232.3 787.5,229.8 788.3,227.3 789.2,224.7 790,222.2 790.8,219.7 791.6,217.2 792.5,214.7 793.3,212.2 794.1,209.8 794.9,207.3 795.7,204.9 796.5,202.4 797.3,200 798.1,197.6 798.9,195.2 799.7,192.8 800.5,190.4 801.3,188.1 802.1,185.7 802.9,183.4 803.7,181.1 804.5,178.8 805.3,176.4 806,174.1 806.8,171.8 807.6,169.6 808.4,167.3 809.1,165 809.9,162.7 810.7,160.5 811.4,158.2 812.2,156 813,153.7 813.7,151.5 814.5,149.3 815.2,147 816,144.8 816.7,142.6 817.5,140.4 818.2,138.2 819,136 819.7,133.8 820.4,131.7 821.2,129.5 821.9,127.3 822.6,125.2 823.4,123 824.1,120.9 824.8,118.7 825.6,116.6 826.3,114.5 827,112.4 827.7,110.2 828.4,108.1 829.1,106 829.9,103.9 830.6,101.8 831.3,99.8 832,97.7 832.7,95.6 833.4,93.5 834.1,91.5 834.8,89.4 835.5,87.4 836.2,85.3 836.9,83.3 837.6,81.3 838.2,79.2 838.9,77.2"/><polyline points="480.9,296.4 486.4,296.7 491.9,297 497.4,297.4 503,297.7 508.5,298 514,298.4 519.6,298.7 525.1,299.1 530.6,299.5 536.2,299.8 541.7,300.2 547.3,300.6 552.8,300.9 558.4,301.3 563.9,301.7 569.5,302.1 575.1,302.5 580.6,302.8 586.2,303.2 591.7,303.6 597.3,304 602.9,304.4 608.4,304.8 614,305.2 619.6,305.6 625.2,306.1 630.7,306.5 636.3,306.9 641.9,307.4 647.5,307.8 653.1,308.3 658.7,308.7 664.3,309.2 669.8,309.7 675.4,310.1 681,310.6 686.6,311.1 692.2,311.6 697.8,312.1 703.4,312.7 709.1,313.2 714.7,313.7 720.3,314.2 725.9,314.8 731.5,315.3 737.1,315.9 742.7,316.5 748.3,317.2 754,317.9 759.6,318.8 765.2,319.9 770.9,321.7 776.6,323.9 782.3,326.5 788,329.7 793.7,334 799.4,338.5 805.1,342.5 810.8,346.4 816.5,351.4 822.3,359.2 828.1,369.3 833.9,380.2 839.7,391.8 845.4,404.3 851.2,416.7 856.9,428.7 862.6,440.7 868.3,453.1 874,466.1 879.6,480.1 885.2,494.2 890.8,507.7 896.4,521.2 901.9,534.3 907.4,546 912.9,555.3 918.3,562.7 923.8,569.3 929.2,575.8 934.6,583.3 940,591 945.3,597.1 950.7,601.4 956.1,605.3 961.4,608.7 966.8,611.6 972.1,614.1 977.5,616.2 982.9,618 988.2,619.6 993.6,621.1 999,622.4 1004.3,623.4 1009.7,624.3 1015.1,625.2 1020.4,626 1025.8,626.7 1031.2,627.3 1036.6,627.8 1042,628.3 1047.3,628.8 1052.7,629.2 1058.1,629.7 1063.5,630.1 1068.9,630.5 1074.3,630.9 1079.7,631.3 1085.1,631.7 1090.5,632.1 1095.9,632.5 1101.3,632.8 1106.7,633.2 1112.1,633.6 1117.5,633.9 1122.9,634.3 1128.4,634.7 1133.8,635 1139.2,635.4 1144.6,635.8 1150,636.1 1155.5,636.5 1160.9,636.8 1166.3,637.2 1171.7,637.5 1177.2,637.9 1182.6,638.2 1188,638.6 1193.5,638.9 1198.9,639.2 1204.4,639.6 1209.8,639.9 1215.2,640.3 1220.7,640.6 1226.1,641 1231.6,641.3 1237,641.7 1242.5,642 1248,642.4 1253.4,642.7 1258.9,643.1 1264.3,643.4 1269.8,643.8 1275.3,644.1 1280.7,644.5 1286.2,644.8 1291.7,645.1 1297.1,645.5 1302.6,645.8 1308.1,646.2 1313.6,646.5 1319.1,646.9 1324.5,647.2 1330,647.6 1335.5,647.9 1341,648.3 1346.5,648.6 1352,649 1357.5,649.3 1363,649.7"/><polyline points="771.4,814.9 772.4,811.2 773.3,807.6 774.2,803.9 775.2,800.3 776.1,796.6 777,793 777.9,789.4 778.8,785.8 779.8,782.2 780.7,778.6 781.6,775.1 782.5,771.5 783.4,767.9 784.3,764.4 785.2,760.8 786,757.2 786.9,753.7 787.8,750.1 788.7,746.5 789.6,742.9 790.4,739.3 791.3,735.6 792.2,731.9 793,728 793.9,724.1 794.7,720.2 795.6,716.1 796.4,711.8 797.2,707.3 798,702.6 798.8,697.8 799.6,692.8 800.4,687.3 801.2,681.4 801.9,675 802.7,668.2 803.4,660.9 804.1,651.8 804.7,641.1 805.4,630.6 806,621.2 806.7,611.7 807.3,601.4 807.9,589.2 808.5,574.5 809,558.5 809.5,542.2 809.9,525.9 810.4,508.9 810.9,492.1 811.4,476.4 812,461.3 812.5,446.6 813,431.9 813.6,416.9 814.1,401.9 814.7,387.6 815.3,374.3 815.9,361.6 816.5,351.4 817.2,344 818,337.6 818.7,331.2 819.4,324.3 820.2,317.6 820.9,312 821.7,307.1 822.5,302.5 823.2,298.4 824,294.9 824.8,291.7 825.6,288.7 826.4,285.7 827.2,282.7 828,279.8 828.8,277 829.6,274.2 830.4,271.4 831.1,268.6 831.9,265.8 832.7,263.1 833.5,260.3 834.2,257.6 835,254.8 835.8,252.1 836.5,249.4 837.3,246.7 838.1,244.1 838.8,241.4 839.6,238.8 840.3,236.2 841.1,233.6 841.8,231 842.6,228.4 843.3,225.8 844.1,223.3 844.8,220.7 845.6,218.2 846.3,215.7 847,213.2 847.8,210.7 848.5,208.3 849.2,205.8 850,203.3 850.7,200.9 851.4,198.4 852.1,196 852.9,193.6 853.6,191.2 854.3,188.8 855,186.4 855.7,184 856.4,181.6 857.1,179.2 857.8,176.9 858.5,174.6 859.2,172.2 859.9,169.9 860.6,167.6 861.3,165.3 862,163.1 862.7,160.8 863.4,158.5 864.1,156.3 864.8,154 865.5,151.8 866.1,149.6 866.8,147.3 867.5,145.1 868.2,142.9 868.8,140.7 869.5,138.5 870.2,136.3 870.8,134.1 871.5,132 872.2,129.8 872.8,127.6 873.5,125.5 874.2,123.3 874.8,121.2 875.5,119 876.1,116.9 876.8,114.8 877.4,112.6 878.1,110.5 878.7,108.4 879.3,106.3 880,104.2 880.6,102.1 881.3,100 881.9,97.9 882.5,95.9 883.2,93.8 883.8,91.7 884.4,89.7 885.1,87.6 885.7,85.6 886.3,83.6 886.9,81.5 887.5,79.5"/><polyline points="494.2,270.1 499.7,270.4 505.1,270.7 510.5,271 516,271.2 521.4,271.5 526.9,271.8 532.3,272.1 537.8,272.4 543.2,272.7 548.7,273 554.2,273.3 559.6,273.7 565.1,274 570.5,274.3 576,274.6 581.5,275 586.9,275.3 592.4,275.7 597.9,276 603.4,276.4 608.8,276.7 614.3,277.1 619.8,277.5 625.3,277.8 630.8,278.2 636.3,278.6 641.8,278.9 647.3,279.3 652.8,279.7 658.2,280.1 663.7,280.4 669.2,280.8 674.7,281.2 680.3,281.6 685.8,282 691.3,282.4 696.8,282.9 702.3,283.3 707.8,283.7 713.3,284.2 718.8,284.6 724.4,285.1 729.9,285.5 735.4,286 740.9,286.4 746.5,286.9 752,287.4 757.5,287.9 763,288.4 768.6,288.9 774.1,289.4 779.7,289.9 785.2,290.4 790.7,291 796.3,291.5 801.8,292.1 807.4,292.7 812.9,293.3 818.5,294.1 824,294.9 829.6,296.1 835.2,297.8 840.7,300 846.3,302.5 851.9,305.7 857.5,309.9 863.1,314.4 868.7,318.3 874.3,322.2 879.9,327.2 885.5,334.9 891.1,344.9 896.7,355.7 902.3,367.2 907.8,379.6 913.4,391.8 918.9,403.7 924.4,415.7 929.9,427.9 935.3,440.8 940.7,454.6 946.1,468.7 951.5,482 956.8,495.3 962.1,508.3 967.4,520 972.7,529.2 978,536.5 983.3,543 988.6,549.5 993.8,556.9 999.1,564.6 1004.3,570.6 1009.6,574.9 1014.8,578.7 1020.1,582.1 1025.3,585 1030.6,587.4 1035.9,589.5 1041.2,591.3 1046.5,592.9 1051.7,594.3 1057,595.6 1062.3,596.7 1067.6,597.5 1072.9,598.4 1078.2,599.1 1083.6,599.8 1088.9,600.4 1094.2,601 1099.5,601.4 1104.8,601.9 1110.1,602.3 1115.5,602.8 1120.8,603.2 1126.1,603.6 1131.5,604 1136.8,604.4 1142.1,604.8 1147.5,605.1 1152.8,605.5 1158.2,605.9 1163.5,606.2 1168.8,606.6 1174.2,606.9 1179.5,607.3 1184.9,607.7 1190.2,608 1195.6,608.4 1201,608.7 1206.3,609.1 1211.7,609.4 1217,609.8 1222.4,610.1 1227.8,610.4 1233.1,610.8 1238.5,611.1 1243.9,611.4 1249.2,611.8 1254.6,612.1 1260,612.4 1265.4,612.8 1270.8,613.1 1276.1,613.5 1281.5,613.8 1286.9,614.1 1292.3,614.5 1297.7,614.8 1303.1,615.1 1308.5,615.5 1313.9,615.8 1319.3,616.2 1324.7,616.5 1330.1,616.8 1335.5,617.2 1340.9,617.5 1346.3,617.9 1351.7,618.2 1357.1,618.5 1362.5,618.9"/><polyline points="829.9,819 830.7,815.3 831.6,811.7 832.4,808 833.2,804.4 834.1,800.8 834.9,797.2 835.7,793.6 836.5,790 837.4,786.4 838.2,782.9 839,779.3 839.8,775.7 840.6,772.2 841.4,768.7 842.2,765.1 843,761.6 843.8,758.1 844.6,754.6 845.4,751.1 846.2,747.6 847,744.2 847.8,740.7 848.5,737.2 849.3,733.8 850.1,730.3 850.9,726.8 851.6,723.4 852.4,719.9 853.2,716.4 853.9,712.9 854.7,709.4 855.5,705.8 856.2,702.1 857,698.4 857.7,694.6 858.4,690.8 859.2,686.8 859.9,682.6 860.6,678.2 861.4,673.6 862.1,668.9 862.8,664 863.5,658.6 864.2,652.8 864.9,646.5 865.6,639.8 866.2,632.7 866.9,623.7 867.5,613.1 868.1,602.8 868.8,593.5 869.4,584.2 870,574 870.6,562 871.2,547.5 871.8,531.7 872.3,515.6 872.9,499.4 873.4,482.7 874,466.1 874.5,450.5 875.1,435.7 875.7,421.1 876.3,406.6 876.9,391.9 877.4,377 878,362.9 878.6,349.7 879.3,337.3 879.9,327.2 880.6,319.9 881.2,313.6 881.9,307.3 882.6,300.5 883.2,293.9 883.9,288.5 884.6,283.7 885.3,279.2 886,275.1 886.7,271.7 887.4,268.6 888,265.6 888.7,262.7 889.4,259.8 890.1,257 890.8,254.3 891.5,251.5 892.2,248.8 892.8,246.1 893.5,243.4 894.2,240.7 894.9,238 895.5,235.3 896.2,232.7 896.9,230 897.5,227.4 898.2,224.8 898.9,222.2 899.5,219.6 900.2,217.1 900.8,214.5 901.5,212 902.1,209.4 902.8,206.9 903.4,204.4 904.1,201.9 904.7,199.4 905.4,197 906,194.5 906.6,192.1 907.3,189.7 907.9,187.3 908.5,184.9 909.2,182.5 909.8,180.1 910.4,177.7 911.1,175.3 911.7,173 912.3,170.6 912.9,168.3 913.5,165.9 914.2,163.6 914.8,161.3 915.4,159 916,156.7 916.6,154.4 917.2,152.2 917.8,149.9 918.4,147.7 919,145.5 919.6,143.2 920.2,141 920.8,138.8 921.4,136.6 922,134.5 922.6,132.3 923.2,130.1 923.8,127.9 924.4,125.8 924.9,123.6 925.5,121.5 926.1,119.3 926.7,117.2 927.3,115.1 927.8,112.9 928.4,110.8 929,108.7 929.6,106.6 930.1,104.5 930.7,102.4 931.3,100.3 931.8,98.2 932.4,96.2 933,94.1 933.5,92 934.1,90 934.6,87.9 935.2,85.9 935.8,83.8 936.3,81.8"/><polyline points="507.2,244.6 512.6,244.8 517.9,245.1 523.3,245.4 528.6,245.7 534,246 539.4,246.3 544.7,246.6 550.1,246.8 555.5,247.1 560.8,247.4 566.2,247.7 571.6,248 577,248.3 582.3,248.6 587.7,248.9 593.1,249.1 598.5,249.4 603.9,249.7 609.3,250 614.7,250.3 620.1,250.6 625.5,250.9 630.9,251.2 636.3,251.5 641.7,251.9 647.1,252.2 652.5,252.5 657.9,252.9 663.3,253.2 668.7,253.6 674.1,253.9 679.5,254.3 684.9,254.6 690.4,255 695.8,255.3 701.2,255.7 706.6,256.1 712.1,256.4 717.5,256.8 722.9,257.2 728.4,257.5 733.8,257.9 739.2,258.3 744.7,258.7 750.1,259.1 755.5,259.5 761,259.9 766.4,260.3 771.9,260.7 777.3,261.2 782.8,261.6 788.2,262 793.7,262.5 799.1,262.9 804.6,263.4 810.1,263.9 815.5,264.3 821,264.8 826.4,265.3 831.9,265.8 837.4,266.3 842.9,266.8 848.3,267.3 853.8,267.8 859.3,268.4 864.7,268.9 870.2,269.5 875.7,270.2 881.2,270.9 886.7,271.7 892.2,272.8 897.6,274.6 903.1,276.8 908.6,279.2 914.1,282.4 919.6,286.6 925.1,291 930.6,294.9 936,298.7 941.5,303.7 947,311.2 952.4,321.2 957.8,331.8 963.2,343.2 968.5,355.5 973.9,367.6 979.2,379.4 984.5,391.3 989.7,403.4 995,416.1 1000.2,429.9 1005.3,443.8 1010.5,457 1015.6,470.2 1020.7,483.1 1025.8,494.6 1030.9,503.8 1036.1,511 1041.2,517.5 1046.4,523.9 1051.5,531.2 1056.6,538.8 1061.7,544.8 1066.9,549.1 1072,552.8 1077.2,556.2 1082.4,559 1087.5,561.5 1092.7,563.5 1097.9,565.3 1103.2,566.9 1108.4,568.3 1113.6,569.5 1118.8,570.6 1124.1,571.5 1129.3,572.3 1134.5,573 1139.8,573.7 1145,574.3 1150.3,574.8 1155.5,575.3 1160.8,575.7 1166.1,576.2 1171.3,576.6 1176.6,577 1181.8,577.4 1187.1,577.8 1192.4,578.2 1197.7,578.5 1202.9,578.9 1208.2,579.3 1213.5,579.6 1218.8,580 1224.1,580.3 1229.3,580.7 1234.6,581 1239.9,581.4 1245.2,581.7 1250.5,582.1 1255.8,582.4 1261.1,582.7 1266.4,583.1 1271.7,583.4 1277,583.7 1282.3,584.1 1287.6,584.4 1292.9,584.7 1298.2,585 1303.5,585.4 1308.9,585.7 1314.2,586 1319.5,586.3 1324.8,586.7 1330.1,587 1335.4,587.3 1340.8,587.7 1346.1,588 1351.4,588.3 1356.8,588.6 1362.1,589"/><polyline points="888.6,823.1 889.3,819.4 890.1,815.8 890.8,812.1 891.5,808.5 892.3,804.8 893,801.2 893.7,797.6 894.5,794 895.2,790.4 895.9,786.9 896.6,783.3 897.3,779.7 898.1,776.2 898.8,772.7 899.5,769.2 900.2,765.7 900.9,762.2 901.6,758.7 902.3,755.2 903,751.7 903.7,748.3 904.4,744.8 905.1,741.4 905.8,737.9 906.5,734.5 907.1,731.1 907.8,727.7 908.5,724.3 909.2,720.9 909.9,717.5 910.5,714.2 911.2,710.8 911.9,707.4 912.6,704 913.2,700.7 913.9,697.3 914.5,693.9 915.2,690.5 915.9,687.2 916.5,683.8 917.2,680.3 917.8,676.8 918.5,673.3 919.1,669.6 919.8,665.9 920.4,662.2 921,658.3 921.7,654.2 922.3,649.9 923,645.4 923.6,640.8 924.2,636 924.8,630.7 925.5,625 926.1,618.9 926.7,612.3 927.3,605.2 927.9,596.4 928.6,586 929.2,575.8 929.8,566.6 930.4,557.4 931,547.4 931.6,535.5 932.2,521.2 932.8,505.6 933.5,489.6 934.1,473.7 934.7,457.1 935.3,440.8 935.9,425.4 936.5,410.7 937.2,396.4 937.8,382.1 938.4,367.5 939,352.7 939.6,338.9 940.3,325.9 940.9,313.6 941.5,303.7 942.1,296.4 942.7,290.3 943.4,284.1 944,277.4 944.6,270.9 945.2,265.6 945.8,260.8 946.4,256.4 947,252.5 947.6,249.1 948.2,246.1 948.8,243.2 949.4,240.4 950,237.6 950.5,234.8 951.1,232.1 951.7,229.5 952.3,226.8 952.9,224.2 953.5,221.5 954,218.9 954.6,216.3 955.2,213.7 955.7,211.1 956.3,208.5 956.9,205.9 957.5,203.4 958,200.9 958.6,198.4 959.1,195.9 959.7,193.4 960.3,190.9 960.8,188.4 961.4,186 961.9,183.6 962.5,181.1 963,178.7 963.6,176.3 964.1,173.9 964.7,171.6 965.2,169.2 965.8,166.9 966.3,164.5 966.8,162.2 967.4,159.8 967.9,157.5 968.4,155.2 969,152.9 969.5,150.6 970,148.3 970.6,146.1 971.1,143.8 971.6,141.5 972.1,139.3 972.7,137.1 973.2,134.8 973.7,132.6 974.2,130.4 974.7,128.3 975.2,126.1 975.8,123.9 976.3,121.8 976.8,119.6 977.3,117.5 977.8,115.4 978.3,113.2 978.8,111.1 979.3,109 979.8,106.9 980.3,104.8 980.8,102.7 981.3,100.6 981.8,98.5 982.3,96.4 982.8,94.4 983.3,92.3 983.8,90.3 984.2,88.2 984.7,86.1 985.2,84.1"/><polyline points="519.8,219.8 525,220.1 530.3,220.4 535.6,220.7 540.9,220.9 546.2,221.2 551.5,221.5 556.7,221.8 562,222 567.3,222.3 572.6,222.6 577.9,222.9 583.2,223.2 588.5,223.4 593.8,223.7 599.1,224 604.4,224.3 609.7,224.5 615,224.8 620.3,225.1 625.6,225.4 631,225.7 636.3,225.9 641.6,226.2 646.9,226.5 652.2,226.8 657.5,227.1 662.9,227.3 668.2,227.6 673.5,227.9 678.8,228.2 684.2,228.5 689.5,228.8 694.8,229.1 700.2,229.4 705.5,229.7 710.9,230 716.2,230.4 721.6,230.7 726.9,231 732.2,231.4 737.6,231.7 742.9,232.1 748.3,232.4 753.7,232.8 759,233.1 764.4,233.5 769.7,233.8 775.1,234.2 780.5,234.5 785.8,234.9 791.2,235.2 796.6,235.6 801.9,236 807.3,236.4 812.7,236.8 818.1,237.2 823.4,237.6 828.8,238 834.2,238.4 839.6,238.8 845,239.2 850.4,239.7 855.7,240.1 861.1,240.5 866.5,241 871.9,241.4 877.3,241.9 882.7,242.4 888.1,242.9 893.5,243.4 898.9,243.9 904.3,244.4 909.7,244.8 915.1,245.3 920.5,245.9 925.9,246.4 931.4,247 936.8,247.6 942.2,248.3 947.6,249.1 953,250.3 958.4,252 963.8,254.1 969.2,256.6 974.6,259.7 980,263.8 985.4,268.2 990.7,272 996.1,275.9 1001.5,280.7 1006.8,288.2 1012,298.1 1017.2,308.6 1022.4,319.9 1027.6,332.1 1032.7,344.1 1037.8,355.8 1042.9,367.5 1048,379.5 1053,392.2 1058,405.8 1063,419.6 1067.9,432.7 1072.8,445.7 1077.7,458.5 1082.7,469.9 1087.6,479 1092.6,486.2 1097.7,492.6 1102.7,499 1107.7,506.2 1112.6,513.7 1117.6,519.7 1122.7,523.9 1127.7,527.6 1132.8,530.9 1137.9,533.8 1143,536.2 1148.1,538.2 1153.2,539.9 1158.4,541.5 1163.5,542.9 1168.7,544.2 1173.8,545.2 1179,546 1184.2,546.9 1189.3,547.6 1194.5,548.3 1199.7,548.9 1204.9,549.4 1210.1,549.8 1215.3,550.3 1220.5,550.7 1225.7,551.1 1230.9,551.5 1236.1,551.9 1241.3,552.3 1246.5,552.6 1251.7,553 1257,553.3 1262.2,553.7 1267.4,554 1272.6,554.4 1277.8,554.7 1283.1,555.1 1288.3,555.4 1293.5,555.7 1298.8,556.1 1304,556.4 1309.2,556.8 1314.5,557.1 1319.7,557.4 1324.9,557.7 1330.2,558.1 1335.4,558.4 1340.7,558.7 1345.9,559 1351.2,559.3 1356.4,559.6 1361.7,560"/><polyline points="947.5,827.3 948.1,823.6 948.8,819.9 949.4,816.2 950,812.6 950.7,808.9 951.3,805.3 951.9,801.6 952.6,798 953.2,794.4 953.8,790.9 954.5,787.3 955.1,783.7 955.7,780.2 956.3,776.6 956.9,773.1 957.6,769.6 958.2,766.1 958.8,762.6 959.4,759.1 960,755.6 960.6,752.2 961.2,748.7 961.8,745.3 962.4,741.9 963,738.4 963.6,735 964.2,731.6 964.8,728.3 965.4,724.9 966,721.5 966.6,718.1 967.1,714.8 967.7,711.4 968.3,708.1 968.9,704.8 969.5,701.5 970,698.1 970.6,694.8 971.2,691.5 971.8,688.2 972.3,685 972.9,681.7 973.5,678.4 974,675.1 974.6,671.9 975.1,668.6 975.7,665.3 976.3,662 976.8,658.7 977.4,655.4 977.9,652.1 978.5,648.7 979,645.2 979.6,641.6 980.1,638 980.7,634.3 981.2,630.5 981.8,626.5 982.3,622.3 982.9,618 983.4,613.5 984,608.7 984.5,603.5 985.1,597.9 985.6,591.9 986.2,585.4 986.8,578.5 987.4,569.8 988,559.5 988.6,549.5 989.2,540.4 989.7,531.4 990.3,521.5 991,509.7 991.6,495.6 992.3,480.2 992.9,464.4 993.6,448.7 994.3,432.3 995,416.1 995.6,401 996.3,386.4 996.9,372.3 997.6,358.1 998.3,343.7 998.9,329.2 999.6,315.5 1000.2,302.7 1000.8,290.5 1001.5,280.7 1002,273.6 1002.6,267.6 1003.1,261.5 1003.7,254.9 1004.2,248.6 1004.8,243.3 1005.3,238.7 1005.8,234.3 1006.4,230.5 1006.9,227.2 1007.4,224.2 1007.9,221.4 1008.4,218.6 1008.9,215.9 1009.4,213.2 1009.8,210.6 1010.3,208 1010.8,205.4 1011.3,202.8 1011.8,200.3 1012.3,197.7 1012.8,195.1 1013.2,192.6 1013.7,190.1 1014.2,187.6 1014.7,185.1 1015.2,182.6 1015.6,180.1 1016.1,177.7 1016.6,175.2 1017,172.8 1017.5,170.4 1018,168 1018.4,165.6 1018.9,163.2 1019.4,160.9 1019.8,158.5 1020.3,156.2 1020.7,153.9 1021.2,151.5 1021.7,149.2 1022.1,147 1022.6,144.7 1023,142.4 1023.5,140.1 1023.9,137.9 1024.4,135.6 1024.8,133.4 1025.2,131.1 1025.7,128.9 1026.1,126.7 1026.6,124.5 1027,122.3 1027.5,120.1 1027.9,117.9 1028.3,115.7 1028.8,113.6 1029.2,111.4 1029.6,109.3 1030.1,107.2 1030.5,105.1 1030.9,103 1031.3,100.9 1031.8,98.8 1032.2,96.7 1032.6,94.7 1033,92.6 1033.4,90.5 1033.9,88.5 1034.3,86.4"/><polyline points="532,195.9 537.2,196.1 542.4,196.4 547.6,196.7 552.8,196.9 558,197.2 563.2,197.5 568.4,197.7 573.6,198 578.8,198.3 584,198.5 589.3,198.8 594.5,199.1 599.7,199.3 604.9,199.6 610.1,199.9 615.4,200.1 620.6,200.4 625.8,200.7 631.1,201 636.3,201.2 641.5,201.5 646.8,201.8 652,202 657.2,202.3 662.5,202.6 667.7,202.9 673,203.1 678.2,203.4 683.5,203.7 688.7,203.9 694,204.2 699.2,204.5 704.5,204.8 709.7,205 715,205.3 720.2,205.6 725.5,205.9 730.8,206.1 736,206.4 741.3,206.7 746.6,207 751.8,207.3 757.1,207.5 762.4,207.9 767.7,208.2 773,208.5 778.2,208.8 783.5,209.1 788.8,209.4 794.1,209.8 799.4,210.1 804.7,210.4 810,210.8 815.3,211.1 820.5,211.5 825.8,211.8 831.1,212.2 836.4,212.5 841.7,212.9 847,213.2 852.4,213.6 857.7,213.9 863,214.3 868.3,214.7 873.6,215.1 878.9,215.4 884.2,215.8 889.5,216.2 894.9,216.6 900.2,217.1 905.5,217.5 910.8,217.9 916.1,218.3 921.5,218.7 926.8,219.2 932.1,219.6 937.5,220.1 942.8,220.6 948.1,221 953.5,221.5 958.8,222 964.1,222.5 969.5,223 974.8,223.4 980.1,224 985.5,224.5 990.8,225.1 996.2,225.7 1001.5,226.4 1006.9,227.2 1012.2,228.3 1017.5,230 1022.9,232.1 1028.2,234.5 1033.5,237.6 1038.7,241.7 1044,246 1049.3,249.8 1054.5,253.6 1059.8,258.4 1064.9,265.9 1070,275.6 1075.1,286.1 1080.1,297.3 1085.1,309.3 1090,321.2 1094.9,332.8 1099.9,344.4 1104.7,356.3 1109.6,368.8 1114.4,382.3 1119.1,396 1123.8,409 1128.6,421.9 1133.3,434.6 1138,445.9 1142.8,454.9 1147.7,462 1152.6,468.3 1157.5,474.7 1162.4,481.9 1167.2,489.3 1172.1,495.2 1177,499.4 1182,503.1 1187,506.3 1192,509.2 1197,511.5 1202,513.5 1207.1,515.3 1212.2,516.8 1217.2,518.2 1222.3,519.4 1227.4,520.4 1232.5,521.3 1237.6,522.1 1242.7,522.8 1247.9,523.5 1253,524.1 1258.1,524.6 1263.3,525 1268.4,525.4 1273.5,525.8 1278.7,526.3 1283.8,526.6 1289,527 1294.1,527.4 1299.3,527.8 1304.4,528.1 1309.6,528.4 1314.7,528.8 1319.9,529.1 1325.1,529.5 1330.2,529.8 1335.4,530.1 1340.6,530.5 1345.7,530.8 1350.9,531.1 1356.1,531.5 1361.3,531.8"/><polyline points="1006.6,831.4 1007.1,827.7 1007.7,824 1008.2,820.3 1008.8,816.6 1009.3,813 1009.8,809.3 1010.4,805.7 1010.9,802.1 1011.5,798.5 1012,794.9 1012.5,791.3 1013,787.7 1013.6,784.1 1014.1,780.6 1014.6,777 1015.1,773.5 1015.7,770 1016.2,766.5 1016.7,763 1017.2,759.5 1017.7,756 1018.2,752.6 1018.8,749.1 1019.3,745.7 1019.8,742.3 1020.3,738.8 1020.8,735.4 1021.3,732 1021.8,728.7 1022.3,725.3 1022.8,721.9 1023.3,718.6 1023.8,715.2 1024.3,711.9 1024.8,708.6 1025.2,705.3 1025.7,702 1026.2,698.7 1026.7,695.4 1027.2,692.1 1027.7,688.9 1028.1,685.6 1028.6,682.3 1029.1,679.1 1029.6,675.9 1030.1,672.6 1030.5,669.4 1031,666.2 1031.5,663 1031.9,659.8 1032.4,656.6 1032.9,653.4 1033.3,650.2 1033.8,647 1034.3,643.8 1034.7,640.6 1035.2,637.4 1035.7,634.2 1036.1,631 1036.6,627.8 1037,624.6 1037.5,621.2 1037.9,617.8 1038.4,614.4 1038.9,610.8 1039.3,607.3 1039.8,603.6 1040.2,599.6 1040.7,595.5 1041.2,591.3 1041.7,586.8 1042.1,582.2 1042.6,577.1 1043.1,571.6 1043.6,565.7 1044.1,559.3 1044.6,552.5 1045.2,543.9 1045.8,533.8 1046.4,523.9 1046.9,514.9 1047.5,506 1048.1,496.3 1048.7,484.7 1049.4,470.7 1050.1,455.5 1050.8,439.9 1051.6,424.3 1052.3,408.1 1053,392.2 1053.7,377.2 1054.4,362.8 1055.1,348.8 1055.8,334.9 1056.5,320.6 1057.2,306.3 1057.9,292.8 1058.5,280.1 1059.2,268.1 1059.8,258.4 1060.3,251.4 1060.8,245.5 1061.3,239.5 1061.8,233 1062.3,226.8 1062.8,221.6 1063.2,217 1063.7,212.8 1064.1,209 1064.6,205.8 1065,202.9 1065.4,200.2 1065.8,197.4 1066.2,194.8 1066.6,192.2 1067,189.6 1067.4,187.1 1067.8,184.6 1068.2,182.1 1068.6,179.5 1069,177 1069.4,174.5 1069.8,172.1 1070.2,169.6 1070.6,167.2 1071,164.7 1071.4,162.3 1071.7,159.9 1072.1,157.5 1072.5,155.2 1072.9,152.8 1073.3,150.4 1073.7,148.1 1074,145.8 1074.4,143.4 1074.8,141.1 1075.2,138.8 1075.5,136.6 1075.9,134.3 1076.3,132 1076.7,129.8 1077,127.6 1077.4,125.3 1077.8,123.1 1078.1,120.9 1078.5,118.7 1078.9,116.5 1079.2,114.3 1079.6,112.1 1079.9,110 1080.3,107.8 1080.7,105.6 1081,103.5 1081.4,101.4 1081.7,99.2 1082.1,97.1 1082.4,95 1082.8,92.9 1083.1,90.9 1083.5,88.8"/><polyline points="543.8,172.6 548.9,172.8 554.1,173.1 559.2,173.4 564.3,173.6 569.4,173.9 574.6,174.1 579.7,174.4 584.8,174.7 590,174.9 595.1,175.2 600.3,175.4 605.4,175.7 610.6,176 615.7,176.2 620.8,176.5 626,176.7 631.2,177 636.3,177.3 641.5,177.5 646.6,177.8 651.8,178.1 656.9,178.3 662.1,178.6 667.3,178.8 672.4,179.1 677.6,179.4 682.8,179.6 687.9,179.9 693.1,180.2 698.3,180.4 703.5,180.7 708.6,180.9 713.8,181.2 719,181.5 724.2,181.7 729.4,182 734.5,182.3 739.7,182.5 744.9,182.8 750.1,183.1 755.3,183.3 760.5,183.6 765.7,183.9 770.9,184.1 776.1,184.4 781.3,184.7 786.5,184.9 791.7,185.2 796.9,185.5 802.1,185.7 807.3,186 812.5,186.3 817.7,186.6 823,186.9 828.2,187.2 833.4,187.5 838.6,187.8 843.8,188.1 849.1,188.4 854.3,188.8 859.5,189.1 864.7,189.4 870,189.7 875.2,190.1 880.4,190.4 885.7,190.7 890.9,191.1 896.2,191.4 901.4,191.8 906.6,192.1 911.9,192.5 917.1,192.8 922.4,193.2 927.6,193.5 932.9,193.9 938.1,194.3 943.4,194.7 948.6,195.1 953.9,195.5 959.1,195.9 964.4,196.3 969.7,196.7 974.9,197.1 980.2,197.5 985.5,198 990.7,198.4 996,198.9 1001.3,199.3 1006.5,199.8 1011.8,200.3 1017.1,200.7 1022.3,201.2 1027.6,201.7 1032.9,202.1 1038.2,202.6 1043.4,203.2 1048.7,203.7 1054,204.4 1059.3,205.1 1064.6,205.8 1069.8,206.9 1075.1,208.6 1080.3,210.7 1085.6,213.1 1090.8,216.1 1095.9,220.2 1101.1,224.5 1106.3,228.2 1111.4,232 1116.6,236.7 1121.6,244.1 1126.5,253.8 1131.4,264.1 1136.2,275.2 1141,287.1 1145.8,298.9 1150.5,310.4 1155.3,321.9 1160,333.7 1164.6,346.1 1169.2,359.4 1173.8,373 1178.3,385.9 1182.9,398.7 1187.4,411.3 1192,422.5 1196.6,431.4 1201.4,438.5 1206.2,444.7 1211,451 1215.7,458.1 1220.4,465.5 1225.1,471.4 1230,475.5 1234.9,479.2 1239.8,482.4 1244.7,485.2 1249.6,487.5 1254.6,489.5 1259.6,491.2 1264.6,492.8 1269.6,494.1 1274.6,495.3 1279.6,496.3 1284.7,497.2 1289.7,498 1294.8,498.7 1299.8,499.3 1304.9,499.9 1310,500.4 1315.1,500.8 1320.1,501.2 1325.2,501.6 1330.3,502 1335.4,502.4 1340.5,502.8 1345.6,503.2 1350.7,503.5 1355.8,503.9 1360.9,504.2"/><polyline points="1065.9,835.6 1066.4,831.8 1066.8,828.1 1067.3,824.4 1067.7,820.7 1068.1,817.1 1068.6,813.4 1069,809.8 1069.5,806.1 1069.9,802.5 1070.3,798.9 1070.8,795.3 1071.2,791.7 1071.6,788.1 1072.1,784.6 1072.5,781 1072.9,777.5 1073.4,773.9 1073.8,770.4 1074.2,766.9 1074.6,763.4 1075.1,759.9 1075.5,756.4 1075.9,753 1076.3,749.5 1076.7,746.1 1077.1,742.7 1077.6,739.3 1078,735.8 1078.4,732.4 1078.8,729.1 1079.2,725.7 1079.6,722.3 1080,719 1080.4,715.6 1080.8,712.3 1081.2,709 1081.6,705.7 1082,702.4 1082.4,699.1 1082.8,695.8 1083.2,692.5 1083.6,689.3 1084,686 1084.4,682.8 1084.8,679.6 1085.2,676.4 1085.6,673.1 1085.9,669.9 1086.3,666.7 1086.7,663.6 1087.1,660.4 1087.5,657.2 1087.9,654 1088.2,650.9 1088.6,647.7 1089,644.6 1089.4,641.4 1089.7,638.3 1090.1,635.2 1090.5,632.1 1090.9,629 1091.2,625.9 1091.6,622.8 1092,619.7 1092.3,616.6 1092.7,613.4 1093.1,610.3 1093.5,607.2 1093.8,604.1 1094.2,601 1094.6,597.8 1094.9,594.5 1095.3,591.2 1095.7,587.8 1096,584.4 1096.4,580.9 1096.8,577.3 1097.2,573.5 1097.6,569.4 1097.9,565.3 1098.3,560.9 1098.8,556.3 1099.2,551.4 1099.6,546 1100,540.2 1100.5,533.9 1101,527.2 1101.5,518.7 1102.1,508.7 1102.7,499 1103.2,490.1 1103.8,481.3 1104.3,471.7 1105,460.3 1105.7,446.5 1106.5,431.4 1107.2,416 1108,400.6 1108.8,384.6 1109.6,368.8 1110.3,354 1111.1,339.8 1111.8,326 1112.5,312.2 1113.2,298.1 1114,284 1114.7,270.6 1115.3,258.1 1116,246.2 1116.6,236.7 1117,229.8 1117.5,224 1117.9,218.1 1118.4,211.7 1118.8,205.6 1119.3,200.5 1119.6,196 1120,191.9 1120.4,188.1 1120.7,185 1121.1,182.2 1121.4,179.5 1121.7,176.8 1122,174.2 1122.4,171.7 1122.7,169.2 1123,166.7 1123.3,164.3 1123.6,161.8 1123.9,159.4 1124.3,156.9 1124.6,154.5 1124.9,152.1 1125.2,149.7 1125.5,147.3 1125.8,144.9 1126.1,142.6 1126.4,140.2 1126.7,137.9 1127,135.6 1127.3,133.3 1127.6,131 1127.9,128.7 1128.2,126.4 1128.5,124.1 1128.8,121.9 1129.1,119.7 1129.4,117.4 1129.7,115.2 1130,113 1130.3,110.8 1130.6,108.7 1130.9,106.5 1131.1,104.3 1131.4,102.2 1131.7,100 1132,97.9 1132.3,95.7 1132.6,93.6 1132.9,91.5"/><polyline points="555.3,150 560.4,150.3 565.4,150.5 570.5,150.8 575.5,151 580.6,151.3 585.6,151.5 590.7,151.8 595.8,152 600.8,152.3 605.9,152.5 611,152.8 616,153 621.1,153.3 626.2,153.5 631.2,153.8 636.3,154 641.4,154.3 646.5,154.5 651.6,154.8 656.6,155.1 661.7,155.3 666.8,155.6 671.9,155.8 677,156.1 682.1,156.3 687.2,156.6 692.3,156.8 697.4,157.1 702.5,157.3 707.6,157.6 712.7,157.8 717.8,158.1 722.9,158.4 728,158.6 733.1,158.9 738.2,159.1 743.3,159.4 748.4,159.6 753.5,159.9 758.7,160.2 763.8,160.4 768.9,160.7 774,160.9 779.1,161.2 784.3,161.4 789.4,161.7 794.5,162 799.6,162.2 804.8,162.5 809.9,162.7 815,163 820.2,163.2 825.3,163.5 830.5,163.8 835.6,164 840.7,164.3 845.9,164.5 851,164.8 856.2,165.1 861.3,165.3 866.5,165.6 871.6,165.9 876.8,166.2 881.9,166.4 887.1,166.7 892.3,167 897.4,167.3 902.6,167.6 907.8,168 912.9,168.3 918.1,168.6 923.3,168.9 928.4,169.2 933.6,169.6 938.8,169.9 943.9,170.2 949.1,170.6 954.3,170.9 959.5,171.2 964.7,171.6 969.9,171.9 975,172.2 980.2,172.6 985.4,173 990.6,173.3 995.8,173.7 1001,174.1 1006.2,174.5 1011.4,174.9 1016.6,175.2 1021.8,175.6 1027,176 1032.2,176.5 1037.4,176.9 1042.6,177.3 1047.8,177.7 1053,178.2 1058.2,178.6 1063.4,179.1 1068.6,179.5 1073.8,180 1079,180.5 1084.2,180.9 1089.5,181.4 1094.7,181.9 1099.9,182.4 1105.1,183 1110.3,183.6 1115.5,184.3 1120.7,185 1125.9,186.1 1131.1,187.7 1136.3,189.8 1141.4,192.2 1146.5,195.2 1151.6,199.2 1156.7,203.5 1161.8,207.2 1166.8,210.9 1171.8,215.6 1176.7,222.9 1181.5,232.5 1186.2,242.7 1190.9,253.7 1195.5,265.5 1200.1,277.2 1204.7,288.6 1209.3,299.9 1213.8,311.6 1218.3,323.9 1222.7,337.2 1227.1,350.6 1231.4,363.4 1235.8,376.1 1240.1,388.6 1244.6,399.7 1249.1,408.5 1253.7,415.5 1258.4,421.7 1263.1,427.9 1267.6,435 1272.2,442.3 1276.9,448.1 1281.6,452.2 1286.4,455.8 1291.2,459 1296.1,461.8 1301,464.1 1305.9,466.1 1310.8,467.8 1315.7,469.3 1320.6,470.7 1325.6,471.8 1330.6,472.8 1335.6,473.7 1340.5,474.4 1345.5,475.1 1350.5,475.8 1355.5,476.3 1360.6,476.8"/><polyline points="1125.5,839.7 1125.8,836 1126.2,832.3 1126.5,828.6 1126.9,824.9 1127.2,821.2 1127.6,817.5 1127.9,813.8 1128.2,810.2 1128.6,806.6 1128.9,802.9 1129.3,799.3 1129.6,795.7 1129.9,792.1 1130.3,788.5 1130.6,785 1130.9,781.4 1131.3,777.9 1131.6,774.3 1131.9,770.8 1132.3,767.3 1132.6,763.8 1132.9,760.3 1133.3,756.9 1133.6,753.4 1133.9,749.9 1134.2,746.5 1134.5,743.1 1134.9,739.7 1135.2,736.2 1135.5,732.8 1135.8,729.5 1136.1,726.1 1136.5,722.7 1136.8,719.4 1137.1,716 1137.4,712.7 1137.7,709.4 1138,706.1 1138.3,702.8 1138.6,699.5 1138.9,696.2 1139.2,692.9 1139.6,689.7 1139.9,686.4 1140.2,683.2 1140.5,679.9 1140.8,676.7 1141.1,673.5 1141.4,670.3 1141.7,667.1 1142,664 1142.3,660.8 1142.6,657.6 1142.9,654.5 1143.1,651.3 1143.4,648.2 1143.7,645.1 1144,642 1144.3,638.9 1144.6,635.8 1144.9,632.7 1145.2,629.6 1145.5,626.5 1145.8,623.4 1146,620.4 1146.3,617.3 1146.6,614.2 1146.9,611.2 1147.2,608.2 1147.5,605.1 1147.8,602.1 1148,599.1 1148.3,596.1 1148.6,593 1148.9,590 1149.2,587 1149.4,583.9 1149.7,580.9 1150,577.9 1150.3,574.8 1150.6,571.7 1150.8,568.6 1151.1,565.3 1151.4,562 1151.7,558.7 1152,555.3 1152.3,551.7 1152.6,548 1152.9,544 1153.2,539.9 1153.6,535.7 1153.9,531.2 1154.3,526.3 1154.6,521 1155,515.3 1155.4,509.1 1155.9,502.5 1156.4,494.2 1157,484.3 1157.5,474.7 1158,466 1158.6,457.3 1159.1,447.8 1159.8,436.5 1160.5,422.9 1161.3,407.9 1162.1,392.7 1163,377.5 1163.8,361.7 1164.6,346.1 1165.4,331.4 1166.2,317.4 1166.9,303.8 1167.7,290.2 1168.4,276.2 1169.2,262.2 1169.9,249.1 1170.6,236.7 1171.3,225 1171.8,215.6 1172.3,208.8 1172.7,203 1173.1,197.3 1173.5,191 1173.9,184.9 1174.3,179.9 1174.6,175.5 1174.9,171.5 1175.2,167.8 1175.5,164.7 1175.7,162 1176,159.3 1176.2,156.8 1176.4,154.2 1176.7,151.8 1176.9,149.3 1177.2,146.9 1177.4,144.5 1177.6,142.1 1177.9,139.7 1178.1,137.3 1178.3,134.9 1178.6,132.6 1178.8,130.2 1179,127.9 1179.2,125.6 1179.5,123.3 1179.7,121 1179.9,118.7 1180.1,116.5 1180.4,114.2 1180.6,112 1180.8,109.8 1181,107.5 1181.3,105.3 1181.5,103.1 1181.7,101 1181.9,98.8 1182.1,96.6 1182.3,94.5"/><polyline points="566.5,128.1 571.4,128.3 576.4,128.6 581.4,128.8 586.4,129.1 591.4,129.3 596.4,129.5 601.4,129.8 606.4,130 611.3,130.3 616.3,130.5 621.3,130.8 626.3,131 631.3,131.3 636.3,131.5 641.3,131.7 646.3,132 651.4,132.2 656.4,132.5 661.4,132.7 666.4,133 671.4,133.2 676.4,133.5 681.4,133.7 686.4,134 691.5,134.2 696.5,134.4 701.5,134.7 706.5,134.9 711.6,135.2 716.6,135.4 721.6,135.7 726.6,135.9 731.7,136.2 736.7,136.4 741.7,136.7 746.8,136.9 751.8,137.2 756.9,137.4 761.9,137.7 767,137.9 772,138.2 777,138.4 782.1,138.7 787.1,138.9 792.2,139.2 797.2,139.4 802.3,139.7 807.4,139.9 812.4,140.2 817.5,140.4 822.5,140.7 827.6,140.9 832.7,141.2 837.7,141.4 842.8,141.7 847.9,141.9 852.9,142.2 858,142.4 863.1,142.7 868.2,142.9 873.2,143.2 878.3,143.4 883.4,143.7 888.5,143.9 893.6,144.2 898.7,144.4 903.7,144.7 908.8,144.9 913.9,145.2 919,145.5 924.1,145.7 929.2,146 934.3,146.3 939.4,146.5 944.5,146.8 949.6,147.1 954.7,147.4 959.8,147.7 964.9,148 970,148.3 975.1,148.6 980.3,149 985.4,149.3 990.5,149.6 995.6,149.9 1000.7,150.2 1005.8,150.6 1011,150.9 1016.1,151.2 1021.2,151.5 1026.3,151.9 1031.4,152.2 1036.6,152.6 1041.7,152.9 1046.8,153.3 1052,153.6 1057.1,154 1062.2,154.4 1067.4,154.8 1072.5,155.2 1077.6,155.5 1082.8,155.9 1087.9,156.3 1093.1,156.7 1098.2,157.2 1103.4,157.6 1108.5,158 1113.6,158.5 1118.8,158.9 1123.9,159.4 1129.1,159.8 1134.2,160.3 1139.4,160.7 1144.5,161.2 1149.7,161.7 1154.9,162.2 1160,162.7 1165.2,163.3 1170.3,164 1175.5,164.7 1180.6,165.8 1185.7,167.4 1190.8,169.5 1195.9,171.8 1200.9,174.8 1205.9,178.8 1210.8,183 1215.8,186.7 1220.8,190.3 1225.7,195 1230.5,202.2 1235.1,211.7 1239.7,221.8 1244.2,232.7 1248.6,244.4 1253.1,256 1257.5,267.3 1261.9,278.6 1266.3,290.2 1270.6,302.3 1274.8,315.5 1279,328.8 1283.2,341.4 1287.4,354.1 1291.6,366.4 1295.8,377.4 1300.2,386.2 1304.7,393.1 1309.3,399.3 1313.8,405.4 1318.3,412.5 1322.8,419.7 1327.3,425.4 1332,429.5 1336.7,433.1 1341.4,436.3 1346.2,439 1351,441.3 1355.8,443.2 1360.7,444.9"/><polyline points="1185.3,843.9 1185.5,840.2 1185.8,836.4 1186,832.7 1186.3,829 1186.5,825.3 1186.8,821.6 1187,817.9 1187.2,814.3 1187.5,810.6 1187.7,807 1188,803.4 1188.2,799.7 1188.5,796.1 1188.7,792.5 1188.9,789 1189.2,785.4 1189.4,781.8 1189.6,778.3 1189.9,774.8 1190.1,771.2 1190.3,767.7 1190.6,764.2 1190.8,760.7 1191,757.3 1191.3,753.8 1191.5,750.3 1191.7,746.9 1192,743.5 1192.2,740.1 1192.4,736.6 1192.6,733.2 1192.9,729.9 1193.1,726.5 1193.3,723.1 1193.5,719.8 1193.8,716.4 1194,713.1 1194.2,709.8 1194.4,706.5 1194.7,703.2 1194.9,699.9 1195.1,696.6 1195.3,693.3 1195.5,690 1195.7,686.8 1196,683.6 1196.2,680.3 1196.4,677.1 1196.6,673.9 1196.8,670.7 1197,667.5 1197.2,664.3 1197.5,661.2 1197.7,658 1197.9,654.9 1198.1,651.7 1198.3,648.6 1198.5,645.5 1198.7,642.3 1198.9,639.2 1199.1,636.2 1199.3,633.1 1199.5,630 1199.7,626.9 1199.9,623.9 1200.1,620.8 1200.3,617.8 1200.6,614.8 1200.8,611.7 1201,608.7 1201.2,605.7 1201.4,602.7 1201.6,599.7 1201.8,596.7 1202,593.7 1202.2,590.7 1202.3,587.8 1202.5,584.8 1202.7,581.8 1202.9,578.9 1203.1,576 1203.3,573 1203.5,570.1 1203.7,567.1 1203.9,564.2 1204.1,561.2 1204.3,558.3 1204.5,555.3 1204.7,552.3 1204.9,549.4 1205.1,546.3 1205.3,543.3 1205.5,540.1 1205.7,536.9 1205.9,533.6 1206.1,530.3 1206.4,526.8 1206.6,523.1 1206.9,519.3 1207.1,515.3 1207.4,511.1 1207.6,506.7 1207.9,501.9 1208.3,496.7 1208.6,491 1209,485 1209.4,478.5 1209.8,470.2 1210.4,460.5 1211,451 1211.5,442.4 1212,433.9 1212.5,424.5 1213.2,413.3 1213.9,399.8 1214.8,385.1 1215.6,370.1 1216.5,355 1217.4,339.4 1218.3,323.9 1219.1,309.5 1219.9,295.6 1220.7,282.1 1221.5,268.7 1222.2,254.9 1223,241.1 1223.8,228 1224.5,215.8 1225.2,204.3 1225.7,195 1226.1,188.3 1226.5,182.6 1226.8,176.9 1227.2,170.8 1227.5,164.8 1227.8,159.9 1228.1,155.6 1228.4,151.6 1228.6,148 1228.8,145 1229,142.3 1229.1,139.7 1229.3,137.2 1229.5,134.7 1229.6,132.3 1229.8,129.9 1229.9,127.6 1230.1,125.2 1230.3,122.9 1230.4,120.6 1230.6,118.2 1230.7,115.9 1230.9,113.6 1231,111.3 1231.2,109 1231.4,106.8 1231.5,104.5 1231.7,102.3 1231.8,100.1 1232,97.9"/><polyline points="577.3,106.8 582.2,107 587.1,107.3 592.1,107.5 597,107.7 601.9,108 606.8,108.2 611.7,108.4 616.7,108.7 621.6,108.9 626.5,109.2 631.4,109.4 636.4,109.6 641.3,109.9 646.2,110.1 651.2,110.3 656.1,110.6 661,110.8 666,111 670.9,111.3 675.9,111.5 680.8,111.8 685.7,112 690.7,112.2 695.6,112.5 700.6,112.7 705.5,113 710.5,113.2 715.4,113.4 720.4,113.7 725.4,113.9 730.3,114.2 735.3,114.4 740.2,114.6 745.2,114.9 750.2,115.1 755.1,115.4 760.1,115.6 765.1,115.8 770,116.1 775,116.3 780,116.6 785,116.8 789.9,117 794.9,117.3 799.9,117.5 804.9,117.8 809.9,118 814.9,118.2 819.8,118.5 824.8,118.7 829.8,119 834.8,119.2 839.8,119.5 844.8,119.7 849.8,119.9 854.8,120.2 859.8,120.4 864.8,120.7 869.8,120.9 874.8,121.2 879.8,121.4 884.8,121.7 889.8,121.9 894.8,122.1 899.9,122.4 904.9,122.6 909.9,122.9 914.9,123.1 919.9,123.4 924.9,123.6 930,123.9 935,124.1 940,124.4 945,124.6 950.1,124.8 955.1,125.1 960.1,125.3 965.2,125.6 970.2,125.8 975.2,126.1 980.3,126.3 985.3,126.6 990.4,126.9 995.4,127.1 1000.4,127.4 1005.5,127.7 1010.5,128 1015.6,128.3 1020.6,128.6 1025.7,128.9 1030.7,129.2 1035.8,129.5 1040.9,129.8 1045.9,130.1 1051,130.5 1056,130.8 1061.1,131.1 1066.2,131.4 1071.2,131.7 1076.3,132 1081.4,132.4 1086.4,132.7 1091.5,133 1096.6,133.4 1101.6,133.7 1106.7,134.1 1111.8,134.5 1116.9,134.8 1121.9,135.2 1127,135.6 1132.1,136 1137.2,136.3 1142.3,136.7 1147.3,137.1 1152.4,137.5 1157.5,138 1162.6,138.4 1167.7,138.8 1172.8,139.3 1177.9,139.7 1183,140.2 1188,140.6 1193.1,141 1198.2,141.5 1203.3,142 1208.4,142.5 1213.5,143 1218.6,143.6 1223.7,144.3 1228.8,145 1233.8,146 1238.9,147.7 1243.9,149.7 1248.9,152 1253.8,154.9 1258.7,158.9 1263.6,163 1268.5,166.7 1273.4,170.3 1278.2,174.9 1282.8,182.1 1287.3,191.5 1291.8,201.5 1296.1,212.3 1300.4,223.9 1304.7,235.4 1308.9,246.6 1313.2,257.7 1317.4,269.2 1321.5,281.3 1325.6,294.3 1329.6,307.5 1333.7,320 1337.7,332.6 1341.7,344.8 1345.8,355.7 1350.1,364.4 1354.5,371.3 1358.9,377.4 1363.4,383.5"/><polyline points="1245.3,848.1 1245.4,844.4 1245.6,840.6 1245.7,836.9 1245.9,833.2 1246,829.4 1246.2,825.7 1246.3,822 1246.5,818.4 1246.6,814.7 1246.7,811.1 1246.9,807.4 1247,803.8 1247.2,800.2 1247.3,796.6 1247.5,793 1247.6,789.4 1247.7,785.8 1247.9,782.3 1248,778.7 1248.2,775.2 1248.3,771.7 1248.4,768.1 1248.6,764.6 1248.7,761.2 1248.9,757.7 1249,754.2 1249.1,750.8 1249.3,747.3 1249.4,743.9 1249.5,740.5 1249.7,737 1249.8,733.6 1249.9,730.3 1250.1,726.9 1250.2,723.5 1250.3,720.2 1250.5,716.8 1250.6,713.5 1250.7,710.2 1250.9,706.8 1251,703.5 1251.1,700.2 1251.3,697 1251.4,693.7 1251.5,690.4 1251.7,687.2 1251.8,683.9 1251.9,680.7 1252,677.5 1252.2,674.3 1252.3,671.1 1252.4,667.9 1252.5,664.7 1252.7,661.5 1252.8,658.4 1252.9,655.2 1253,652.1 1253.2,648.9 1253.3,645.8 1253.4,642.7 1253.5,639.6 1253.7,636.5 1253.8,633.4 1253.9,630.4 1254,627.3 1254.1,624.2 1254.3,621.2 1254.4,618.2 1254.5,615.1 1254.6,612.1 1254.7,609.1 1254.9,606.1 1255,603.1 1255.1,600.1 1255.2,597.2 1255.3,594.2 1255.5,591.2 1255.6,588.3 1255.7,585.3 1255.8,582.4 1255.9,579.5 1256,576.5 1256.2,573.6 1256.3,570.7 1256.4,567.8 1256.5,564.9 1256.6,562 1256.7,559.1 1256.8,556.2 1257,553.3 1257.1,550.5 1257.2,547.6 1257.3,544.7 1257.4,541.9 1257.5,539 1257.7,536.1 1257.8,533.2 1257.9,530.3 1258,527.5 1258.1,524.6 1258.2,521.6 1258.4,518.6 1258.5,515.5 1258.6,512.4 1258.8,509.2 1258.9,505.9 1259.1,502.5 1259.2,498.9 1259.4,495.1 1259.6,491.2 1259.8,487.1 1260,482.8 1260.3,478.1 1260.5,473 1260.8,467.4 1261.1,461.5 1261.5,455 1261.9,446.9 1262.5,437.3 1263.1,427.9 1263.5,419.4 1264,411 1264.6,401.8 1265.2,390.7 1266,377.4 1266.9,362.8 1267.8,348 1268.7,333.1 1269.6,317.6 1270.6,302.3 1271.4,288 1272.3,274.4 1273.1,261 1273.9,247.7 1274.7,234.1 1275.5,220.4 1276.3,207.6 1277,195.5 1277.7,184.1 1278.2,174.9 1278.6,168.4 1278.9,162.8 1279.2,157.2 1279.5,151.1 1279.8,145.2 1280.1,140.4 1280.3,136.1 1280.5,132.2 1280.6,128.7 1280.7,125.7 1280.9,123.1 1281,120.6 1281,118.1 1281.1,115.7 1281.2,113.3 1281.3,111 1281.4,108.7 1281.5,106.4 1281.6,104.2 1281.7,101.9"/><polyline points="587.9,86.1 592.7,86.3 597.6,86.5 602.4,86.8 607.2,87 612.1,87.2 617,87.5 621.8,87.7 626.7,87.9 631.5,88.2 636.4,88.4 641.2,88.6 646.1,88.8 651,89.1 655.8,89.3 660.7,89.5 665.6,89.8 670.4,90 675.3,90.2 680.2,90.5 685.1,90.7 689.9,90.9 694.8,91.1 699.7,91.4 704.6,91.6 709.4,91.8 714.3,92.1 719.2,92.3 724.1,92.5 729,92.8 733.9,93 738.8,93.2 743.7,93.5 748.6,93.7 753.4,93.9 758.3,94.2 763.2,94.4 768.1,94.6 773,94.9 777.9,95.1 782.9,95.3 787.8,95.6 792.7,95.8 797.6,96 802.5,96.3 807.4,96.5 812.3,96.7 817.2,97 822.1,97.2 827.1,97.4 832,97.7 836.9,97.9 841.8,98.1 846.8,98.4 851.7,98.6 856.6,98.8 861.5,99.1 866.5,99.3 871.4,99.6 876.3,99.8 881.3,100 886.2,100.3 891.1,100.5 896.1,100.7 901,101 906,101.2 910.9,101.5 915.9,101.7 920.8,101.9 925.8,102.2 930.7,102.4 935.7,102.6 940.6,102.9 945.6,103.1 950.5,103.4 955.5,103.6 960.4,103.8 965.4,104.1 970.4,104.3 975.3,104.6 980.3,104.8 985.3,105 990.2,105.3 995.2,105.5 1000.2,105.8 1005.2,106 1010.1,106.2 1015.1,106.5 1020.1,106.7 1025.1,107 1030.1,107.2 1035,107.5 1040,107.7 1045,108 1050,108.2 1055,108.5 1060,108.8 1065,109.1 1070,109.4 1075,109.7 1079.9,110 1084.9,110.3 1089.9,110.6 1094.9,110.9 1099.9,111.2 1104.9,111.5 1110,111.8 1115,112.1 1120,112.4 1125,112.7 1130,113 1135,113.3 1140,113.7 1145,114 1150,114.3 1155.1,114.7 1160.1,115 1165.1,115.4 1170.1,115.8 1175.1,116.1 1180.1,116.5 1185.2,116.9 1190.2,117.2 1195.2,117.6 1200.2,118 1205.3,118.4 1210.3,118.8 1215.3,119.2 1220.4,119.7 1225.4,120.1 1230.4,120.6 1235.5,121 1240.5,121.4 1245.5,121.9 1250.6,122.3 1255.6,122.8 1260.6,123.3 1265.7,123.8 1270.7,124.4 1275.7,125 1280.7,125.7 1285.7,126.8 1290.7,128.4 1295.7,130.4 1300.6,132.7 1305.4,135.6 1310.2,139.5 1315,143.6 1319.8,147.2 1324.6,150.8 1329.4,155.4 1333.9,162.5 1338.2,171.8 1342.5,181.7 1346.7,192.4 1350.9,203.9 1355,215.3 1359.1,226.3 1363.2,237.4 1367.3,248.8 1371.3,260.8"/><polyline points="1305.5,852.4 1305.6,848.6 1305.6,844.8 1305.7,841.1 1305.7,837.3 1305.8,833.6 1305.8,829.9 1305.8,826.2 1305.9,822.5 1305.9,818.8 1306,815.1 1306,811.5 1306.1,807.8 1306.1,804.2 1306.2,800.6 1306.2,797 1306.3,793.4 1306.3,789.8 1306.3,786.2 1306.4,782.7 1306.4,779.1 1306.5,775.6 1306.5,772.1 1306.6,768.6 1306.6,765.1 1306.7,761.6 1306.7,758.1 1306.7,754.6 1306.8,751.2 1306.8,747.7 1306.9,744.3 1306.9,740.9 1307,737.4 1307,734 1307,730.7 1307.1,727.3 1307.1,723.9 1307.2,720.6 1307.2,717.2 1307.2,713.9 1307.3,710.5 1307.3,707.2 1307.4,703.9 1307.4,700.6 1307.5,697.4 1307.5,694.1 1307.5,690.8 1307.6,687.6 1307.6,684.3 1307.7,681.1 1307.7,677.9 1307.7,674.7 1307.8,671.5 1307.8,668.3 1307.9,665.1 1307.9,661.9 1307.9,658.7 1308,655.6 1308,652.5 1308.1,649.3 1308.1,646.2 1308.1,643.1 1308.2,640 1308.2,636.9 1308.3,633.8 1308.3,630.7 1308.3,627.7 1308.4,624.6 1308.4,621.6 1308.4,618.5 1308.5,615.5 1308.5,612.5 1308.6,609.5 1308.6,606.5 1308.6,603.5 1308.7,600.5 1308.7,597.5 1308.7,594.5 1308.8,591.6 1308.8,588.6 1308.9,585.7 1308.9,582.8 1308.9,579.8 1309,576.9 1309,574 1309,571.1 1309.1,568.2 1309.1,565.4 1309.1,562.5 1309.2,559.6 1309.2,556.8 1309.3,553.9 1309.3,551 1309.3,548.2 1309.4,545.4 1309.4,542.5 1309.4,539.7 1309.5,536.9 1309.5,534.1 1309.5,531.3 1309.6,528.4 1309.6,525.7 1309.7,522.9 1309.7,520.1 1309.7,517.3 1309.8,514.5 1309.8,511.7 1309.9,508.8 1309.9,506 1309.9,503.2 1310,500.4 1310,497.5 1310.1,494.6 1310.1,491.5 1310.2,488.5 1310.3,485.3 1310.4,482.2 1310.4,478.8 1310.5,475.3 1310.7,471.6 1310.8,467.8 1310.9,463.7 1311.1,459.5 1311.3,454.9 1311.5,449.9 1311.7,444.4 1312,438.5 1312.3,432.2 1312.8,424.2 1313.3,414.7 1313.8,405.4 1314.3,397.1 1314.8,388.7 1315.3,379.6 1316,368.7 1316.8,355.5 1317.7,341.1 1318.6,326.4 1319.6,311.7 1320.6,296.4 1321.5,281.3 1322.4,267.2 1323.3,253.6 1324.1,240.4 1324.9,227.3 1325.8,213.9 1326.6,200.3 1327.4,187.6 1328.2,175.7 1328.8,164.4 1329.4,155.4 1329.7,148.9 1329.9,143.4 1330.2,137.9 1330.5,131.9 1330.8,126.1 1331,121.3 1331.1,117.2 1331.3,113.3 1331.4,109.9 1331.4,107"/></g><polygon points="394.9,512.6 401.8,520.8 408.9,531.6 416.1,543.1 423.4,555.5 430.7,568.7 438,581.9 445.2,594.6 452.4,607.4 459.6,620.4 466.8,634.2 474.1,649 481.4,663.9 488.6,678.2 495.8,692.4 502.8,706.2 509.8,718.6 516.4,728.4 522.9,736.3 529.3,743.2 535.7,750.1 542.1,758 548.5,766.2 554.8,772.6 561,777.2 567,781.3 573.1,784.9 579,788 585,790.7 590.9,792.9 596.8,794.8 602.7,796.6 608.5,798.2 614.4,799.6 620.2,800.7 626.1,801.7 631.9,802.7 637.7,803.5 643.5,804.3 649.3,805 655.1,805.6 660.9,806.2 666.7,806.7 672.5,807.2 678.3,807.7 684.1,808.2 689.9,808.7 695.8,809.2 701.6,809.7 707.4,810.1 713.2,810.6 719,811 724.8,811.4 730.6,811.9 736.5,812.3 742.3,812.7 748.1,813.2 753.9,813.6 759.8,814 765.6,814.5 771.4,814.9 777.3,815.3 783.1,815.7 789,816.1 794.8,816.6 800.6,817 806.5,817.4 812.3,817.8 818.2,818.2 824,818.6 829.9,819 835.7,819.4 841.6,819.8 847.5,820.2 853.3,820.7 859.2,821.1 865.1,821.5 870.9,821.9 876.8,822.3 882.7,822.7 888.6,823.1 894.4,823.5 900.3,824 906.2,824.4 912.1,824.8 918,825.2 923.9,825.6 929.8,826 935.7,826.4 941.6,826.8 947.5,827.3 953.4,827.7 959.3,828.1 965.2,828.5 971.1,828.9 977,829.3 982.9,829.7 988.8,830.2 994.7,830.6 1000.7,831 1006.6,831.4 1012.5,831.8 1018.4,832.2 1024.4,832.7 1030.3,833.1 1036.2,833.5 1042.2,833.9 1048.1,834.3 1054,834.7 1060,835.1 1065.9,835.6 1071.9,836 1077.8,836.4 1083.8,836.8 1089.7,837.2 1095.7,837.7 1101.6,838.1 1107.6,838.5 1113.5,838.9 1119.5,839.3 1125.5,839.7 1131.4,840.2 1137.4,840.6 1143.4,841 1149.4,841.4 1155.3,841.8 1161.3,842.3 1167.3,842.7 1173.3,843.1 1179.3,843.5 1185.3,843.9 1191.3,844.4 1197.2,844.8 1203.2,845.2 1209.2,845.6 1215.2,846 1221.2,846.5 1227.2,846.9 1233.3,847.3 1239.3,847.7 1245.3,848.1 1251.3,848.6 1257.3,849 1263.3,849.4 1269.3,849.8 1275.4,850.3 1281.4,850.7 1287.4,851.1 1293.5,851.5 1299.5,851.9 1305.5,852.4 1311.6,852.8 1317.6,853.2 1323.6,853.6 1329.7,854.1 1335.7,854.5 1341.8,854.9 1347.8,855.3 1353.9,855.8 1359.9,856.2 1366,856.6 1366,856.6 1365.9,852.8 1365.9,849 1365.8,845.3 1365.8,841.5 1365.7,837.8 1365.7,834 1365.6,830.3 1365.5,826.6 1365.5,822.9 1365.4,819.2 1365.4,815.6 1365.3,811.9 1365.3,808.3 1365.2,804.6 1365.2,801 1365.1,797.4 1365.1,793.8 1365,790.2 1365,786.7 1364.9,783.1 1364.9,779.5 1364.8,776 1364.8,772.5 1364.7,769 1364.7,765.5 1364.6,762 1364.6,758.5 1364.5,755 1364.5,751.6 1364.4,748.1 1364.4,744.7 1364.3,741.3 1364.3,737.9 1364.2,734.4 1364.2,731.1 1364.1,727.7 1364.1,724.3 1364,720.9 1364,717.6 1363.9,714.3 1363.9,710.9 1363.8,707.6 1363.8,704.3 1363.7,701 1363.7,697.7 1363.6,694.5 1363.6,691.2 1363.5,687.9 1363.5,684.7 1363.4,681.5 1363.4,678.2 1363.3,675 1363.3,671.8 1363.2,668.6 1363.2,665.5 1363.2,662.3 1363.1,659.1 1363.1,656 1363,652.8 1363,649.7 1362.9,646.6 1362.9,643.4 1362.8,640.3 1362.8,637.2 1362.7,634.2 1362.7,631.1 1362.7,628 1362.6,625 1362.6,621.9 1362.5,618.9 1362.5,615.8 1362.4,612.8 1362.4,609.8 1362.3,606.8 1362.3,603.8 1362.3,600.8 1362.2,597.9 1362.2,594.9 1362.1,591.9 1362.1,589 1362,586 1362,583.1 1362,580.2 1361.9,577.3 1361.9,574.4 1361.8,571.5 1361.8,568.6 1361.7,565.7 1361.7,562.8 1361.7,560 1361.6,557.1 1361.6,554.3 1361.5,551.4 1361.5,548.6 1361.5,545.8 1361.4,543 1361.4,540.2 1361.3,537.4 1361.3,534.6 1361.3,531.8 1361.2,529 1361.2,526.2 1361.1,523.4 1361.1,520.7 1361.1,517.9 1361,515.2 1361,512.4 1360.9,509.7 1360.9,506.9 1360.9,504.2 1360.8,501.5 1360.8,498.7 1360.8,496 1360.7,493.3 1360.7,490.5 1360.7,487.8 1360.6,485.1 1360.6,482.3 1360.6,479.6 1360.6,476.8 1360.5,474 1360.5,471.1 1360.5,468.2 1360.5,465.2 1360.5,462.1 1360.5,459 1360.5,455.7 1360.6,452.3 1360.6,448.7 1360.7,444.9 1360.8,441 1360.9,436.8 1361,432.3 1361.2,427.3 1361.4,421.9 1361.6,416.1 1361.9,409.9 1362.3,402 1362.9,392.6 1363.4,383.5 1363.8,375.2 1364.3,367 1364.8,358 1365.5,347.2 1366.3,334.2 1367.3,319.9 1368.2,305.4 1369.2,290.9 1370.2,275.7 1371.3,260.8 1372.2,246.8 1373.1,233.4 1373.9,220.4 1374.8,207.4 1375.6,194.1 1376.5,180.7 1377.3,168.2 1378.1,156.4 1378.7,145.2 1379.2,136.3 1379.2,136.3 1374.6,131.8 1369.9,128.2 1365.2,124.6 1360.5,120.6 1355.8,116.7 1351,113.8 1346.1,111.6 1341.3,109.6 1336.4,108 1331.4,107 1326.5,106.3 1321.5,105.6 1316.5,105.1 1311.5,104.5 1306.6,104 1301.6,103.6 1296.6,103.2 1291.6,102.7 1286.6,102.3 1281.7,101.9 1276.7,101.4 1271.7,101 1266.7,100.6 1261.8,100.2 1256.8,99.8 1251.8,99.4 1246.9,99 1241.9,98.6 1236.9,98.2 1232,97.9 1227,97.5 1222,97.2 1217.1,96.8 1212.1,96.5 1207.1,96.1 1202.2,95.8 1197.2,95.4 1192.3,95.1 1187.3,94.8 1182.3,94.5 1177.4,94.2 1172.4,93.9 1167.5,93.6 1162.5,93.3 1157.6,93 1152.6,92.7 1147.7,92.4 1142.7,92.1 1137.8,91.8 1132.9,91.5 1127.9,91.2 1123,90.9 1118,90.6 1113.1,90.3 1108.2,90.1 1103.2,89.8 1098.3,89.5 1093.4,89.3 1088.4,89 1083.5,88.8 1078.6,88.5 1073.6,88.3 1068.7,88.1 1063.8,87.8 1058.9,87.6 1054,87.4 1049,87.1 1044.1,86.9 1039.2,86.7 1034.3,86.4 1029.4,86.2 1024.5,86 1019.5,85.7 1014.6,85.5 1009.7,85.3 1004.8,85 999.9,84.8 995,84.6 990.1,84.3 985.2,84.1 980.3,83.9 975.4,83.6 970.5,83.4 965.6,83.2 960.7,82.9 955.9,82.7 951,82.5 946.1,82.3 941.2,82 936.3,81.8 931.4,81.6 926.5,81.3 921.7,81.1 916.8,80.9 911.9,80.6 907,80.4 902.2,80.2 897.3,79.9 892.4,79.7 887.5,79.5 882.7,79.3 877.8,79 872.9,78.8 868.1,78.6 863.2,78.3 858.4,78.1 853.5,77.9 848.6,77.7 843.8,77.4 838.9,77.2 834.1,77 829.2,76.7 824.4,76.5 819.5,76.3 814.7,76.1 809.8,75.8 805,75.6 800.2,75.4 795.3,75.2 790.5,74.9 785.6,74.7 780.8,74.5 776,74.3 771.1,74 766.3,73.8 761.5,73.6 756.6,73.3 751.8,73.1 747,72.9 742.2,72.7 737.3,72.4 732.5,72.2 727.7,72 722.9,71.8 718.1,71.5 713.2,71.3 708.4,71.1 703.6,70.9 698.8,70.6 694,70.4 689.2,70.2 684.4,70 679.6,69.8 674.8,69.5 670,69.3 665.2,69.1 660.4,68.9 655.6,68.6 650.8,68.4 646,68.2 641.2,68 636.4,67.7 631.6,67.5 626.8,67.3 622,67.1 617.2,66.9 612.5,66.6 607.7,66.4 602.9,66.2 598.1,66 598.1,66 597.1,68 596.1,69.9 595.1,71.9 594,73.9 593,76 592,78 591,80 589.9,82 588.9,84.1 587.9,86.1 586.8,88.1 585.8,90.2 584.7,92.2 583.7,94.3 582.6,96.4 581.6,98.4 580.5,100.5 579.4,102.6 578.4,104.7 577.3,106.8 576.2,108.9 575.2,111 574.1,113.1 573,115.2 571.9,117.4 570.8,119.5 569.8,121.6 568.7,123.8 567.6,125.9 566.5,128.1 565.4,130.3 564.3,132.4 563.1,134.6 562,136.8 560.9,139 559.8,141.2 558.7,143.4 557.6,145.6 556.4,147.8 555.3,150 554.2,152.2 553,154.5 551.9,156.7 550.7,159 549.6,161.2 548.4,163.5 547.3,165.7 546.1,168 545,170.3 543.8,172.6 542.6,174.9 541.5,177.2 540.3,179.5 539.1,181.8 537.9,184.1 536.7,186.5 535.6,188.8 534.4,191.1 533.2,193.5 532,195.9 530.8,198.2 529.6,200.6 528.3,203 527.1,205.4 525.9,207.7 524.7,210.1 523.5,212.6 522.2,215 521,217.4 519.8,219.8 518.5,222.3 517.3,224.7 516,227.2 514.8,229.6 513.5,232.1 512.3,234.6 511,237.1 509.7,239.5 508.5,242 507.2,244.6 505.9,247.1 504.6,249.6 503.3,252.1 502.1,254.7 500.8,257.2 499.5,259.8 498.2,262.3 496.9,264.9 495.5,267.5 494.2,270.1 492.9,272.7 491.6,275.3 490.3,277.9 488.9,280.5 487.6,283.1 486.3,285.8 484.9,288.4 483.6,291.1 482.2,293.7 480.9,296.4 479.5,299.1 478.1,301.8 476.8,304.5 475.4,307.3 474,310 472.6,312.8 471.2,315.5 469.9,318.3 468.5,321.1 467.1,324 465.7,326.8 464.3,329.6 462.9,332.5 461.4,335.4 460,338.2 458.6,341.1 457.2,344 455.7,346.9 454.3,349.8 452.9,352.8 451.4,355.7 450,358.7 448.5,361.7 447.1,364.7 445.6,367.7 444.1,370.7 442.7,373.7 441.2,376.8 439.7,379.9 438.2,383 436.8,386.1 435.3,389.2 433.8,392.3 432.3,395.5 430.8,398.7 429.3,401.9 427.8,405.1 426.2,408.3 424.7,411.6 423.2,414.8 421.7,418.1 420.1,421.4 418.6,424.7 417,428 415.5,431.4 414,434.8 412.4,438.2 410.9,441.8 409.3,445.4 407.8,449.1 406.3,453.2 404.8,457.9 403.4,463.1 402,468.7 400.8,474.9 399.6,482.4 398.4,490 397.2,497.2 396,504.3 394.9,512.6" fill="none" stroke="#000" stroke-width="2.5" stroke-linejoin="round"/><g stroke="#676767" stroke-width="2.5" fill="none" stroke-linecap="round"><line x1="365" y1="476.6" x2="1418.1" y2="539.8"/><line x1="402.9" y1="807.7" x2="365" y2="476.6"/></g><g stroke="#1a1a1a" stroke-width="1.4" fill="none" stroke-linecap="butt"><line x1="402.9" y1="807.7" x2="1385" y2="877.2" stroke-width="1.9"/><line x1="365" y1="476.6" x2="585.8" y2="54" stroke-width="1.9"/><line x1="1385" y1="877.2" x2="1418.1" y2="539.8" stroke-width="1.9"/><line x1="421.2" y1="809" x2="419.9" y2="797.3"/><line x1="513.1" y1="815.5" x2="512.5" y2="808.9"/><line x1="605.5" y1="822.1" x2="605.1" y2="815.5"/><line x1="698.5" y1="828.6" x2="698.2" y2="822"/><line x1="792.1" y1="835.3" x2="791.7" y2="823.4"/><line x1="886.2" y1="841.9" x2="886.2" y2="835.3"/><line x1="980.9" y1="848.6" x2="981" y2="842"/><line x1="1076.2" y1="855.4" x2="1076.4" y2="848.7"/><line x1="1172.1" y1="862.1" x2="1172.7" y2="850.2"/><line x1="1268.5" y1="869" x2="1269" y2="862.3"/><line x1="1365.5" y1="875.8" x2="1366.1" y2="869.1"/><line x1="370.5" y1="466.1" x2="389" y2="467.2"/><line x1="396.9" y1="415.5" x2="406.4" y2="416"/><line x1="421.9" y1="367.6" x2="431.2" y2="368.1"/><line x1="445.7" y1="322.2" x2="454.7" y2="322.7"/><line x1="468.2" y1="279.1" x2="484.9" y2="280"/><line x1="489.6" y1="238.1" x2="498.2" y2="238.5"/><line x1="510" y1="199.1" x2="518.3" y2="199.5"/><line x1="529.4" y1="161.9" x2="537.6" y2="162.4"/><line x1="547.9" y1="126.5" x2="563.1" y2="127.2"/><line x1="565.6" y1="92.7" x2="573.4" y2="93"/><line x1="582.5" y1="60.3" x2="590.2" y2="60.7"/><line x1="1386.2" y1="864.4" x2="1376.5" y2="863.7"/><line x1="1389.1" y1="835" x2="1370.5" y2="833.7"/><line x1="1392.1" y1="805.2" x2="1382.2" y2="804.5"/><line x1="1395" y1="775.1" x2="1385.1" y2="774.4"/><line x1="1398" y1="744.5" x2="1388" y2="743.9"/><line x1="1401.1" y1="713.6" x2="1381.9" y2="712.3"/><line x1="1404.1" y1="682.2" x2="1394" y2="681.6"/><line x1="1407.3" y1="650.4" x2="1397" y2="649.8"/><line x1="1410.4" y1="618.2" x2="1400.1" y2="617.6"/><line x1="1413.6" y1="585.6" x2="1393.9" y2="584.4"/><line x1="1416.9" y1="552.5" x2="1406.4" y2="551.9"/></g><g font-family="'DejaVu Sans',sans-serif" font-size="36" fill="#000"><text x="424.7" y="850.5" text-anchor="middle">0</text><text x="792.5" y="880" text-anchor="middle">2</text><text x="1170.2" y="907" text-anchor="middle">4</text><text x="347.1" y="473.3" text-anchor="middle">0</text><text x="443.7" y="287" text-anchor="middle">2</text><text x="523.7" y="135.1" text-anchor="middle">4</text><text x="1401" y="849" text-anchor="start">2.8</text><text x="1412.4" y="725" text-anchor="start">3.0</text><text x="1425" y="597.5" text-anchor="start">3.2</text><text x="890.6" y="42.6" text-anchor="middle" font-size="44">u</text><text x="890" y="939" text-anchor="middle" font-style="italic" font-size="37">x</text><text x="416.3" y="244.5" text-anchor="middle" font-style="italic" font-size="37.5">t</text></g>
<g><clipPath id="c89"><rect x="81.3" y="1160" width="853" height="660.3"/></clipPath><rect x="89.3" y="1160" width="837" height="660.3" fill="none" stroke="#262626" stroke-width="2.1"/><g stroke="#262626" stroke-width="2.1"><line x1="193.9" y1="1820.3" x2="193.9" y2="1811"/><line x1="193.9" y1="1160" x2="193.9" y2="1169.3"/><line x1="298.6" y1="1820.3" x2="298.6" y2="1811"/><line x1="298.6" y1="1160" x2="298.6" y2="1169.3"/><line x1="403.2" y1="1820.3" x2="403.2" y2="1811"/><line x1="403.2" y1="1160" x2="403.2" y2="1169.3"/><line x1="507.8" y1="1820.3" x2="507.8" y2="1811"/><line x1="507.8" y1="1160" x2="507.8" y2="1169.3"/><line x1="612.4" y1="1820.3" x2="612.4" y2="1811"/><line x1="612.4" y1="1160" x2="612.4" y2="1169.3"/><line x1="717" y1="1820.3" x2="717" y2="1811"/><line x1="717" y1="1160" x2="717" y2="1169.3"/><line x1="821.7" y1="1820.3" x2="821.7" y2="1811"/><line x1="821.7" y1="1160" x2="821.7" y2="1169.3"/><line x1="89.3" y1="1710.3" x2="98.6" y2="1710.3"/><line x1="926.3" y1="1710.3" x2="917" y2="1710.3"/><line x1="89.3" y1="1600.2" x2="98.6" y2="1600.2"/><line x1="926.3" y1="1600.2" x2="917" y2="1600.2"/><line x1="89.3" y1="1490.2" x2="98.6" y2="1490.2"/><line x1="926.3" y1="1490.2" x2="917" y2="1490.2"/><line x1="89.3" y1="1380.1" x2="98.6" y2="1380.1"/><line x1="926.3" y1="1380.1" x2="917" y2="1380.1"/><line x1="89.3" y1="1270" x2="98.6" y2="1270"/><line x1="926.3" y1="1270" x2="917" y2="1270"/></g><g fill="none" stroke-linejoin="round" clip-path="url(#c89)"><polyline points="89.3,1384.7 110.2,1326.3 131.2,1292.9 152.1,1273.9 173,1263.1 193.9,1256.9 214.9,1253.4 235.8,1251.4 256.7,1250.2 277.6,1249.6 298.6,1249.2 319.5,1249 340.4,1248.9 361.3,1248.8 382.3,1248.8 403.2,1248.7 424.1,1248.7 445,1248.7 466,1248.7 486.9,1248.7 507.8,1248.7 528.7,1248.7 549.6,1248.7 570.6,1248.7 591.5,1248.7 612.4,1248.7 633.4,1248.7 654.3,1248.7 675.2,1248.7 696.1,1248.7 717,1248.7 738,1248.7 758.9,1248.7 779.8,1248.7 800.8,1248.7 821.7,1248.7 842.6,1248.7 863.5,1248.7 884.5,1248.7 905.4,1248.7 926.3,1248.7" stroke="#0072bd" stroke-width="5.2"/><circle cx="89.3" cy="1384.7" r="6.9" fill="#0072bd" stroke="none"/><circle cx="110.2" cy="1326.3" r="6.9" fill="#0072bd" stroke="none"/><circle cx="131.2" cy="1292.9" r="6.9" fill="#0072bd" stroke="none"/><circle cx="152.1" cy="1273.9" r="6.9" fill="#0072bd" stroke="none"/><circle cx="173" cy="1263.1" r="6.9" fill="#0072bd" stroke="none"/><circle cx="193.9" cy="1256.9" r="6.9" fill="#0072bd" stroke="none"/><circle cx="214.9" cy="1253.4" r="6.9" fill="#0072bd" stroke="none"/><circle cx="235.8" cy="1251.4" r="6.9" fill="#0072bd" stroke="none"/><circle cx="256.7" cy="1250.2" r="6.9" fill="#0072bd" stroke="none"/><circle cx="277.6" cy="1249.6" r="6.9" fill="#0072bd" stroke="none"/><circle cx="298.6" cy="1249.2" r="6.9" fill="#0072bd" stroke="none"/><circle cx="319.5" cy="1249" r="6.9" fill="#0072bd" stroke="none"/><circle cx="340.4" cy="1248.9" r="6.9" fill="#0072bd" stroke="none"/><circle cx="361.3" cy="1248.8" r="6.9" fill="#0072bd" stroke="none"/><circle cx="382.3" cy="1248.8" r="6.9" fill="#0072bd" stroke="none"/><circle cx="403.2" cy="1248.7" r="6.9" fill="#0072bd" stroke="none"/><circle cx="424.1" cy="1248.7" r="6.9" fill="#0072bd" stroke="none"/><circle cx="445" cy="1248.7" r="6.9" fill="#0072bd" stroke="none"/><circle cx="466" cy="1248.7" r="6.9" fill="#0072bd" stroke="none"/><circle cx="486.9" cy="1248.7" r="6.9" fill="#0072bd" stroke="none"/><circle cx="507.8" cy="1248.7" r="6.9" fill="#0072bd" stroke="none"/><circle cx="528.7" cy="1248.7" r="6.9" fill="#0072bd" stroke="none"/><circle cx="549.6" cy="1248.7" r="6.9" fill="#0072bd" stroke="none"/><circle cx="570.6" cy="1248.7" r="6.9" fill="#0072bd" stroke="none"/><circle cx="591.5" cy="1248.7" r="6.9" fill="#0072bd" stroke="none"/><circle cx="612.4" cy="1248.7" r="6.9" fill="#0072bd" stroke="none"/><circle cx="633.4" cy="1248.7" r="6.9" fill="#0072bd" stroke="none"/><circle cx="654.3" cy="1248.7" r="6.9" fill="#0072bd" stroke="none"/><circle cx="675.2" cy="1248.7" r="6.9" fill="#0072bd" stroke="none"/><circle cx="696.1" cy="1248.7" r="6.9" fill="#0072bd" stroke="none"/><circle cx="717" cy="1248.7" r="6.9" fill="#0072bd" stroke="none"/><circle cx="738" cy="1248.7" r="6.9" fill="#0072bd" stroke="none"/><circle cx="758.9" cy="1248.7" r="6.9" fill="#0072bd" stroke="none"/><circle cx="779.8" cy="1248.7" r="6.9" fill="#0072bd" stroke="none"/><circle cx="800.8" cy="1248.7" r="6.9" fill="#0072bd" stroke="none"/><circle cx="821.7" cy="1248.7" r="6.9" fill="#0072bd" stroke="none"/><circle cx="842.6" cy="1248.7" r="6.9" fill="#0072bd" stroke="none"/><circle cx="863.5" cy="1248.7" r="6.9" fill="#0072bd" stroke="none"/><circle cx="884.5" cy="1248.7" r="6.9" fill="#0072bd" stroke="none"/><circle cx="905.4" cy="1248.7" r="6.9" fill="#0072bd" stroke="none"/><circle cx="926.3" cy="1248.7" r="6.9" fill="#0072bd" stroke="none"/><polyline points="89.3,1399 110.2,1345.3 131.2,1314.7 152.1,1297.2 173,1287.2 193.9,1281.5 214.9,1278.3 235.8,1276.5 256.7,1275.4 277.6,1274.8 298.6,1274.5 319.5,1274.3 340.4,1274.2 361.3,1274.1 382.3,1274.1 403.2,1274 424.1,1274 445,1274 466,1274 486.9,1274 507.8,1274 528.7,1274 549.6,1274 570.6,1274 591.5,1274 612.4,1274 633.4,1274 654.3,1274 675.2,1274 696.1,1274 717,1274 738,1274 758.9,1274 779.8,1274 800.8,1274 821.7,1274 842.6,1274 863.5,1274 884.5,1274 905.4,1274 926.3,1274" stroke="#d95319" stroke-width="7.8"/><polyline points="89.3,1445.7 110.2,1391.5 131.2,1360.6 152.1,1343 173,1332.9 193.9,1327.2 214.9,1323.9 235.8,1322 256.7,1321 277.6,1320.4 298.6,1320 319.5,1319.8 340.4,1319.7 361.3,1319.7 382.3,1319.6 403.2,1319.6 424.1,1319.6 445,1319.6 466,1319.6 486.9,1319.6 507.8,1319.6 528.7,1319.6 549.6,1319.6 570.6,1319.6 591.5,1319.6 612.4,1319.6 633.4,1319.6 654.3,1319.6 675.2,1319.6 696.1,1319.6 717,1319.6 738,1319.6 758.9,1319.6 779.8,1319.6 800.8,1319.6 821.7,1319.6 842.6,1319.6 863.5,1319.6 884.5,1319.6 905.4,1319.6 926.3,1319.6" stroke="#edb120" stroke-width="7.8"/><polyline points="89.3,1729 110.2,1677.4 131.2,1648 152.1,1631.2 173,1621.7 193.9,1616.2 214.9,1613.1 235.8,1611.4 256.7,1610.3 277.6,1609.8 298.6,1609.4 319.5,1609.3 340.4,1609.1 361.3,1609.1 382.3,1609.1 403.2,1609 424.1,1609 445,1609 466,1609 486.9,1609 507.8,1609 528.7,1609 549.6,1609 570.6,1609 591.5,1609 612.4,1609 633.4,1609 654.3,1609 675.2,1609 696.1,1609 717,1609 738,1609 758.9,1609 779.8,1609 800.8,1609 821.7,1609 842.6,1609 863.5,1609 884.5,1609 905.4,1609 926.3,1609" stroke="#7e2f8e" stroke-width="7.8"/><polyline points="89.3,1791 110.2,1740 131.2,1711 152.1,1694.4 173,1684.9 193.9,1679.5 214.9,1676.5 235.8,1674.7 256.7,1673.7 277.6,1673.1 298.6,1672.8 319.5,1672.6 340.4,1672.5 361.3,1672.5 382.3,1672.4 403.2,1672.4 424.1,1672.4 445,1672.4 466,1672.4 486.9,1672.4 507.8,1672.4 528.7,1672.4 549.6,1672.4 570.6,1672.4 591.5,1672.4 612.4,1672.4 633.4,1672.4 654.3,1672.4 675.2,1672.4 696.1,1672.4 717,1672.4 738,1672.4 758.9,1672.4 779.8,1672.4 800.8,1672.4 821.7,1672.4 842.6,1672.4 863.5,1672.4 884.5,1672.4 905.4,1672.4 926.3,1672.4" stroke="#77ac30" stroke-width="7.8"/></g><g font-family="'Liberation Sans',Arial,sans-serif" font-size="26.2" fill="#262626"><text x="89.3" y="1858.6" text-anchor="middle">0</text><text x="193.9" y="1858.6" text-anchor="middle">0.5</text><text x="298.6" y="1858.6" text-anchor="middle">1</text><text x="403.2" y="1858.6" text-anchor="middle">1.5</text><text x="507.8" y="1858.6" text-anchor="middle">2</text><text x="612.4" y="1858.6" text-anchor="middle">2.5</text><text x="717" y="1858.6" text-anchor="middle">3</text><text x="821.7" y="1858.6" text-anchor="middle">3.5</text><text x="926.3" y="1858.6" text-anchor="middle">4</text><text x="77.8" y="1829.8" text-anchor="end">3</text><text x="77.8" y="1719.8" text-anchor="end">3.05</text><text x="77.8" y="1609.7" text-anchor="end">3.1</text><text x="77.8" y="1499.7" text-anchor="end">3.15</text><text x="77.8" y="1389.6" text-anchor="end">3.2</text><text x="77.8" y="1279.5" text-anchor="end">3.25</text><text x="77.8" y="1169.5" text-anchor="end">3.3</text><text x="507.8" y="1898" text-anchor="middle" font-size="29">t</text><text transform="translate(14.2,1488) rotate(-90)" text-anchor="middle" font-size="29">u</text></g><rect x="706.4" y="1365.7" width="207.4" height="159.3" fill="#fff" stroke="#262626" stroke-width="2.2"/><g font-family="'Liberation Sans',Arial,sans-serif" font-size="23.3" fill="#000"><line x1="714.1" y1="1384.4" x2="791.1" y2="1384.4" stroke="#0072bd" stroke-width="5.2"/><circle cx="752.6" cy="1384.4" r="6.9" fill="#0072bd"/><text x="796.9" y="1393.6">True PDE</text><line x1="714.1" y1="1415" x2="791.1" y2="1415" stroke="#d95319" stroke-width="7.8"/><text x="796.9" y="1424.2">0% noise</text><line x1="714.1" y1="1445.4" x2="791.1" y2="1445.4" stroke="#edb120" stroke-width="7.8"/><text x="796.9" y="1454.6">25% noise</text><line x1="714.1" y1="1475.9" x2="791.1" y2="1475.9" stroke="#7e2f8e" stroke-width="7.8"/><text x="796.9" y="1485.1">50% noise</text><line x1="714.1" y1="1506.5" x2="791.1" y2="1506.5" stroke="#77ac30" stroke-width="7.8"/><text x="796.9" y="1515.7">75% noise</text></g></g>
<g><clipPath id="c1153"><rect x="1145.1" y="1160" width="852.7" height="660.3"/></clipPath><rect x="1153.1" y="1160" width="836.7" height="660.3" fill="none" stroke="#262626" stroke-width="2.1"/><g stroke="#262626" stroke-width="2.1"><line x1="1257.7" y1="1820.3" x2="1257.7" y2="1811"/><line x1="1257.7" y1="1160" x2="1257.7" y2="1169.3"/><line x1="1362.3" y1="1820.3" x2="1362.3" y2="1811"/><line x1="1362.3" y1="1160" x2="1362.3" y2="1169.3"/><line x1="1466.9" y1="1820.3" x2="1466.9" y2="1811"/><line x1="1466.9" y1="1160" x2="1466.9" y2="1169.3"/><line x1="1571.4" y1="1820.3" x2="1571.4" y2="1811"/><line x1="1571.4" y1="1160" x2="1571.4" y2="1169.3"/><line x1="1676" y1="1820.3" x2="1676" y2="1811"/><line x1="1676" y1="1160" x2="1676" y2="1169.3"/><line x1="1780.6" y1="1820.3" x2="1780.6" y2="1811"/><line x1="1780.6" y1="1160" x2="1780.6" y2="1169.3"/><line x1="1885.2" y1="1820.3" x2="1885.2" y2="1811"/><line x1="1885.2" y1="1160" x2="1885.2" y2="1169.3"/><line x1="1153.1" y1="1746.9" x2="1162.4" y2="1746.9"/><line x1="1989.8" y1="1746.9" x2="1980.5" y2="1746.9"/><line x1="1153.1" y1="1673.6" x2="1162.4" y2="1673.6"/><line x1="1989.8" y1="1673.6" x2="1980.5" y2="1673.6"/><line x1="1153.1" y1="1600.2" x2="1162.4" y2="1600.2"/><line x1="1989.8" y1="1600.2" x2="1980.5" y2="1600.2"/><line x1="1153.1" y1="1526.8" x2="1162.4" y2="1526.8"/><line x1="1989.8" y1="1526.8" x2="1980.5" y2="1526.8"/><line x1="1153.1" y1="1453.5" x2="1162.4" y2="1453.5"/><line x1="1989.8" y1="1453.5" x2="1980.5" y2="1453.5"/><line x1="1153.1" y1="1380.1" x2="1162.4" y2="1380.1"/><line x1="1989.8" y1="1380.1" x2="1980.5" y2="1380.1"/><line x1="1153.1" y1="1306.7" x2="1162.4" y2="1306.7"/><line x1="1989.8" y1="1306.7" x2="1980.5" y2="1306.7"/><line x1="1153.1" y1="1233.4" x2="1162.4" y2="1233.4"/><line x1="1989.8" y1="1233.4" x2="1980.5" y2="1233.4"/></g><g fill="none" stroke-linejoin="round" clip-path="url(#c1153)"><polyline points="1153.1,1808.6 1174,1808.5 1194.9,1808.4 1215.9,1808.4 1236.8,1808.4 1257.7,1808.4 1278.6,1808.4 1299.5,1808.3 1320.4,1808.3 1341.4,1808.3 1362.3,1808.3 1383.2,1808.3 1404.1,1808.3 1425,1808.3 1445.9,1808.3 1466.9,1808.3 1487.8,1808.3 1508.7,1808.3 1529.6,1808.3 1550.5,1808.3 1571.4,1808.3 1592.4,1808.3 1613.3,1808.3 1634.2,1808.3 1655.1,1808.3 1676,1808.3 1697,1808.3 1717.9,1808.3 1738.8,1808.3 1759.7,1808.3 1780.6,1808.3 1801.5,1808.3 1822.5,1808.3 1843.4,1808.3 1864.3,1808.3 1885.2,1808.3 1906.1,1808.3 1927,1808.3 1948,1808.3 1968.9,1808.3 1989.8,1808.3" stroke="#0072bd" stroke-width="5.2"/><circle cx="1153.1" cy="1808.6" r="6.9" fill="#0072bd" stroke="none"/><circle cx="1174" cy="1808.5" r="6.9" fill="#0072bd" stroke="none"/><circle cx="1194.9" cy="1808.4" r="6.9" fill="#0072bd" stroke="none"/><circle cx="1215.9" cy="1808.4" r="6.9" fill="#0072bd" stroke="none"/><circle cx="1236.8" cy="1808.4" r="6.9" fill="#0072bd" stroke="none"/><circle cx="1257.7" cy="1808.4" r="6.9" fill="#0072bd" stroke="none"/><circle cx="1278.6" cy="1808.4" r="6.9" fill="#0072bd" stroke="none"/><circle cx="1299.5" cy="1808.3" r="6.9" fill="#0072bd" stroke="none"/><circle cx="1320.4" cy="1808.3" r="6.9" fill="#0072bd" stroke="none"/><circle cx="1341.4" cy="1808.3" r="6.9" fill="#0072bd" stroke="none"/><circle cx="1362.3" cy="1808.3" r="6.9" fill="#0072bd" stroke="none"/><circle cx="1383.2" cy="1808.3" r="6.9" fill="#0072bd" stroke="none"/><circle cx="1404.1" cy="1808.3" r="6.9" fill="#0072bd" stroke="none"/><circle cx="1425" cy="1808.3" r="6.9" fill="#0072bd" stroke="none"/><circle cx="1445.9" cy="1808.3" r="6.9" fill="#0072bd" stroke="none"/><circle cx="1466.9" cy="1808.3" r="6.9" fill="#0072bd" stroke="none"/><circle cx="1487.8" cy="1808.3" r="6.9" fill="#0072bd" stroke="none"/><circle cx="1508.7" cy="1808.3" r="6.9" fill="#0072bd" stroke="none"/><circle cx="1529.6" cy="1808.3" r="6.9" fill="#0072bd" stroke="none"/><circle cx="1550.5" cy="1808.3" r="6.9" fill="#0072bd" stroke="none"/><circle cx="1571.4" cy="1808.3" r="6.9" fill="#0072bd" stroke="none"/><circle cx="1592.4" cy="1808.3" r="6.9" fill="#0072bd" stroke="none"/><circle cx="1613.3" cy="1808.3" r="6.9" fill="#0072bd" stroke="none"/><circle cx="1634.2" cy="1808.3" r="6.9" fill="#0072bd" stroke="none"/><circle cx="1655.1" cy="1808.3" r="6.9" fill="#0072bd" stroke="none"/><circle cx="1676" cy="1808.3" r="6.9" fill="#0072bd" stroke="none"/><circle cx="1697" cy="1808.3" r="6.9" fill="#0072bd" stroke="none"/><circle cx="1717.9" cy="1808.3" r="6.9" fill="#0072bd" stroke="none"/><circle cx="1738.8" cy="1808.3" r="6.9" fill="#0072bd" stroke="none"/><circle cx="1759.7" cy="1808.3" r="6.9" fill="#0072bd" stroke="none"/><circle cx="1780.6" cy="1808.3" r="6.9" fill="#0072bd" stroke="none"/><circle cx="1801.5" cy="1808.3" r="6.9" fill="#0072bd" stroke="none"/><circle cx="1822.5" cy="1808.3" r="6.9" fill="#0072bd" stroke="none"/><circle cx="1843.4" cy="1808.3" r="6.9" fill="#0072bd" stroke="none"/><circle cx="1864.3" cy="1808.3" r="6.9" fill="#0072bd" stroke="none"/><circle cx="1885.2" cy="1808.3" r="6.9" fill="#0072bd" stroke="none"/><circle cx="1906.1" cy="1808.3" r="6.9" fill="#0072bd" stroke="none"/><circle cx="1927" cy="1808.3" r="6.9" fill="#0072bd" stroke="none"/><circle cx="1948" cy="1808.3" r="6.9" fill="#0072bd" stroke="none"/><circle cx="1968.9" cy="1808.3" r="6.9" fill="#0072bd" stroke="none"/><circle cx="1989.8" cy="1808.3" r="6.9" fill="#0072bd" stroke="none"/><polyline points="1153.1,1809.1 1174,1809 1194.9,1809 1215.9,1809 1236.8,1808.9 1257.7,1808.9 1278.6,1808.9 1299.5,1808.9 1320.4,1808.9 1341.4,1808.9 1362.3,1808.9 1383.2,1808.9 1404.1,1808.9 1425,1808.9 1445.9,1808.9 1466.9,1808.9 1487.8,1808.9 1508.7,1808.9 1529.6,1808.9 1550.5,1808.9 1571.4,1808.9 1592.4,1808.9 1613.3,1808.9 1634.2,1808.9 1655.1,1808.9 1676,1808.9 1697,1808.9 1717.9,1808.9 1738.8,1808.9 1759.7,1808.9 1780.6,1808.9 1801.5,1808.9 1822.5,1808.9 1843.4,1808.9 1864.3,1808.9 1885.2,1808.9 1906.1,1808.9 1927,1808.9 1948,1808.9 1968.9,1808.9 1989.8,1808.9" stroke="#d95319" stroke-width="7.8"/><polyline points="1153.1,1809.2 1174,1809.1 1194.9,1809.1 1215.9,1809 1236.8,1809 1257.7,1809 1278.6,1809 1299.5,1809 1320.4,1809 1341.4,1809 1362.3,1809 1383.2,1809 1404.1,1809 1425,1809 1445.9,1809 1466.9,1809 1487.8,1809 1508.7,1809 1529.6,1809 1550.5,1809 1571.4,1809 1592.4,1809 1613.3,1809 1634.2,1809 1655.1,1809 1676,1809 1697,1809 1717.9,1809 1738.8,1809 1759.7,1809 1780.6,1809 1801.5,1809 1822.5,1809 1843.4,1809 1864.3,1809 1885.2,1809 1906.1,1809 1927,1809 1948,1809 1968.9,1809 1989.8,1809" stroke="#edb120" stroke-width="7.8"/><polyline points="1153.1,1809.5 1174,1809.4 1194.9,1809.4 1215.9,1809.3 1236.8,1809.3 1257.7,1809.3 1278.6,1809.3 1299.5,1809.3 1320.4,1809.3 1341.4,1809.3 1362.3,1809.3 1383.2,1809.3 1404.1,1809.3 1425,1809.3 1445.9,1809.3 1466.9,1809.3 1487.8,1809.3 1508.7,1809.3 1529.6,1809.3 1550.5,1809.3 1571.4,1809.3 1592.4,1809.3 1613.3,1809.3 1634.2,1809.3 1655.1,1809.3 1676,1809.3 1697,1809.3 1717.9,1809.3 1738.8,1809.3 1759.7,1809.3 1780.6,1809.3 1801.5,1809.3 1822.5,1809.3 1843.4,1809.3 1864.3,1809.3 1885.2,1809.3 1906.1,1809.3 1927,1809.3 1948,1809.3 1968.9,1809.3 1989.8,1809.3" stroke="#7e2f8e" stroke-width="7.8"/><polyline points="1153.1,1809.9 1174,1809.8 1194.9,1809.8 1215.9,1809.7 1236.8,1809.7 1257.7,1809.7 1278.6,1809.7 1299.5,1809.7 1320.4,1809.7 1341.4,1809.7 1362.3,1809.7 1383.2,1809.7 1404.1,1809.7 1425,1809.7 1445.9,1809.7 1466.9,1809.7 1487.8,1809.7 1508.7,1809.7 1529.6,1809.7 1550.5,1809.7 1571.4,1809.7 1592.4,1809.7 1613.3,1809.7 1634.2,1809.7 1655.1,1809.7 1676,1809.7 1697,1809.7 1717.9,1809.7 1738.8,1809.7 1759.7,1809.7 1780.6,1809.7 1801.5,1809.7 1822.5,1809.7 1843.4,1809.7 1864.3,1809.7 1885.2,1809.7 1906.1,1809.7 1927,1809.7 1948,1809.7 1968.9,1809.7 1989.8,1809.7" stroke="#77ac30" stroke-width="7.8"/><polyline points="1153.1,1302 1174,1270.3 1194.9,1252.2 1215.9,1241.9 1236.8,1236 1257.7,1232.7 1278.6,1230.8 1299.5,1229.7 1320.4,1229.1 1341.4,1228.7 1362.3,1228.5 1383.2,1228.4 1404.1,1228.3 1425,1228.3 1445.9,1228.3 1466.9,1228.2 1487.8,1228.2 1508.7,1228.2 1529.6,1228.2 1550.5,1228.2 1571.4,1228.2 1592.4,1228.2 1613.3,1228.2 1634.2,1228.2 1655.1,1228.2 1676,1228.2 1697,1228.2 1717.9,1228.2 1738.8,1228.2 1759.7,1228.2 1780.6,1228.2 1801.5,1228.2 1822.5,1228.2 1843.4,1228.2 1864.3,1228.2 1885.2,1228.2 1906.1,1228.2 1927,1228.2 1948,1228.2 1968.9,1228.2 1989.8,1228.2" stroke="#4dbeee" stroke-width="7.8"/></g><g font-family="'Liberation Sans',Arial,sans-serif" font-size="26.2" fill="#262626"><text x="1153.1" y="1858.6" text-anchor="middle">0</text><text x="1257.7" y="1858.6" text-anchor="middle">0.5</text><text x="1362.3" y="1858.6" text-anchor="middle">1</text><text x="1466.9" y="1858.6" text-anchor="middle">1.5</text><text x="1571.4" y="1858.6" text-anchor="middle">2</text><text x="1676" y="1858.6" text-anchor="middle">2.5</text><text x="1780.6" y="1858.6" text-anchor="middle">3</text><text x="1885.2" y="1858.6" text-anchor="middle">3.5</text><text x="1989.8" y="1858.6" text-anchor="middle">4</text><text x="1141.6" y="1829.8" text-anchor="end">0</text><text x="1141.6" y="1756.4" text-anchor="end">20</text><text x="1141.6" y="1683.1" text-anchor="end">40</text><text x="1141.6" y="1609.7" text-anchor="end">60</text><text x="1141.6" y="1536.3" text-anchor="end">80</text><text x="1141.6" y="1463" text-anchor="end">100</text><text x="1141.6" y="1389.6" text-anchor="end">120</text><text x="1141.6" y="1316.2" text-anchor="end">140</text><text x="1141.6" y="1242.9" text-anchor="end">160</text><text x="1141.6" y="1169.5" text-anchor="end">180</text><text x="1571.4" y="1898" text-anchor="middle" font-size="29">t</text><text transform="translate(1085.3,1488) rotate(-90)" text-anchor="middle" font-size="29">u</text></g><rect x="1759.3" y="1339.9" width="220.1" height="190.3" fill="#fff" stroke="#262626" stroke-width="2.2"/><g font-family="'Liberation Sans',Arial,sans-serif" font-size="23.3" fill="#000"><line x1="1767" y1="1358.8" x2="1844" y2="1358.8" stroke="#0072bd" stroke-width="5.2"/><circle cx="1805.5" cy="1358.8" r="6.9" fill="#0072bd"/><text x="1849.8" y="1368">True PDE</text><line x1="1767" y1="1389.3" x2="1844" y2="1389.3" stroke="#d95319" stroke-width="7.8"/><text x="1849.8" y="1398.5">0% noise</text><line x1="1767" y1="1419.9" x2="1844" y2="1419.9" stroke="#edb120" stroke-width="7.8"/><text x="1849.8" y="1429.1">25% noise</text><line x1="1767" y1="1450.3" x2="1844" y2="1450.3" stroke="#7e2f8e" stroke-width="7.8"/><text x="1849.8" y="1459.5">50% noise</text><line x1="1767" y1="1480.8" x2="1844" y2="1480.8" stroke="#77ac30" stroke-width="7.8"/><text x="1849.8" y="1490">75% noise</text><line x1="1767" y1="1511.4" x2="1844" y2="1511.4" stroke="#4dbeee" stroke-width="7.8"/><text x="1849.8" y="1520.6">100% noise</text></g></g>
<g font-family="'Liberation Serif',serif" font-size="50" fill="#000" text-anchor="middle"><text x="884.5" y="1063.3">(a)</text><text x="516.2" y="1983.9">(b)</text><text x="1572.7" y="1976.1">(c)</text></g>
</svg></body></html>
